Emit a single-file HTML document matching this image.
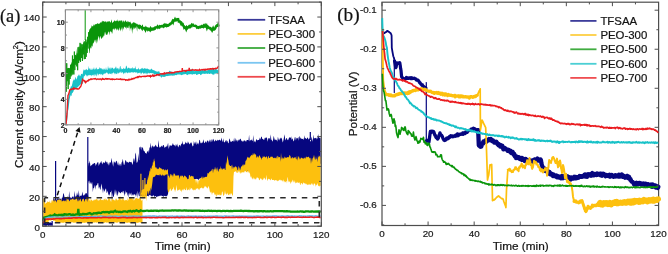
<!DOCTYPE html>
<html><head><meta charset="utf-8"><title>Figure</title>
<style>html,body{margin:0;padding:0;background:#fff;width:668px;height:254px;overflow:hidden}
svg{display:block;font-family:"Liberation Sans",sans-serif;will-change:transform;filter:blur(0.35px)}
text{stroke:#1a1a1a;stroke-width:0.22px}</style></head>
<body><svg width="668" height="254" viewBox="0 0 668 254" font-family="Liberation Sans, sans-serif"><path d="M42.7 222.8 L43.3 222.95 L43.9 222.66 L44.5 222.35 L45.1 222.57 L45.7 222.3 L46.3 222.83 L46.9 223.47 L47.5 222.55 L48.1 222.49 L48.7 223.04 L49.3 222.98 L49.9 222.85 L50.5 222.33 L51.1 222.79 L51.7 223.15 L52.3 222.13 L52.5 222.57 L52.5 225.56 L52.3 226.12 L51.7 225.56 L51.1 225.51 L50.5 225.66 L49.9 225.34 L49.3 225.83 L48.7 225.79 L48.1 225.64 L47.5 225.04 L46.9 225.74 L46.3 225.85 L45.7 225.88 L45.1 225.42 L44.5 225.73 L43.9 225.25 L43.3 225.41 L42.7 225.23ZM51.5 220.99 L52.1 221.18 L52.7 220.88 L52.8 220.98 L52.8 225.82 L52.7 225.55 L52.1 225.81 L51.5 225.82ZM53 200.36 L53.6 197.41 L54.2 199.77 L54.8 198.99 L55.4 198.19 L56 200.63 L56.6 199.51 L57.2 197.5 L57.8 198.73 L58.4 199.19 L59 196.11 L59.6 199.21 L60.2 198.41 L60.8 199.09 L61.4 199.8 L62 197.62 L62.6 197.64 L63.2 193.74 L63.8 193.26 L64.4 196.87 L65 197.42 L65.6 197.74 L66.2 198.78 L66.8 197.48 L67.4 196.44 L68 196.91 L68.6 198.29 L69.2 191.07 L69.8 197.06 L70.4 197.32 L71 198.56 L71.6 197.87 L72.2 196.73 L72.8 196.57 L73.4 196.57 L74 198.22 L74.6 190.71 L75.2 196.16 L75.8 196.69 L76.4 196.1 L77 192.18 L77.6 194.87 L78.2 195.85 L78.8 189.99 L79.4 196.79 L80 196.15 L80.6 195.44 L81.2 196.09 L81.8 195.05 L82.4 191.45 L83 195.31 L83.6 195.86 L84.2 193.95 L84.8 195.55 L85.4 193.47 L86 193.09 L86.6 193.19 L87.2 194.15 L87.8 195.18 L88.4 197.24 L88.5 194.17 L88.5 203.37 L88.4 203.79 L87.8 202.55 L87.2 205.41 L86.6 204.34 L86 202.95 L85.4 203.33 L84.8 205.65 L84.2 203.19 L83.6 202.62 L83 203.7 L82.4 203.62 L81.8 204.01 L81.2 203.44 L80.6 203.67 L80 203.31 L79.4 204.01 L78.8 204.97 L78.2 203.85 L77.6 205.26 L77 202.72 L76.4 203.37 L75.8 203.21 L75.2 203.95 L74.6 203.46 L74 205.1 L73.4 203.02 L72.8 203.84 L72.2 203.73 L71.6 203.93 L71 205.44 L70.4 205.25 L69.8 202.46 L69.2 204.13 L68.6 204.78 L68 203.15 L67.4 204.76 L66.8 202.25 L66.2 204.85 L65.6 201.87 L65 204.36 L64.4 202.87 L63.8 202 L63.2 203.88 L62.6 203.41 L62 204.09 L61.4 204.19 L60.8 204.97 L60.2 203.14 L59.6 204.26 L59 202.95 L58.4 204.04 L57.8 203.92 L57.2 202.97 L56.6 204.52 L56 204.7 L55.4 203.79 L54.8 203.82 L54.2 204.49 L53.6 204.21 L53 203.38ZM88 166.75 L88.6 162.95 L89.2 163.2 L89.8 160.58 L90.4 166.62 L91 165.49 L91.6 165.35 L92.2 164.85 L92.8 163.8 L93.4 163.94 L94 163.05 L94.6 163.08 L95.2 163.5 L95.8 166.07 L96.4 164.3 L97 163.14 L97.6 162.16 L98.2 162.01 L98.8 165.98 L99.4 163.96 L100 163.12 L100.6 162.38 L101.2 160.78 L101.8 162.88 L102.4 164.57 L103 162.29 L103.6 162.59 L104.2 162.6 L104.8 163.2 L105.4 160.13 L106 162.58 L106.6 161.46 L107.2 164.59 L107.8 161.61 L108.4 164.04 L109 165.74 L109.6 162.44 L110.2 161.92 L110.8 163.34 L111.4 157.71 L112 161.21 L112.6 163.83 L113.2 166.63 L113.8 161.25 L114.4 162.63 L115 161.12 L115.6 163.57 L116.2 160.76 L116.8 161.01 L117.4 165.3 L118 161.37 L118.6 164.95 L119.2 165.74 L119.8 163.47 L120.4 163.96 L121 166.41 L121.6 162.48 L122.2 161.71 L122.8 158.79 L123.4 162.73 L124 165.25 L124.6 164.26 L125.2 160.77 L125.8 159.96 L126.4 161.44 L127 162.81 L127.6 161.85 L128.2 162.54 L128.8 162.63 L129.4 161.5 L130 161.9 L130.6 162.28 L131.2 161.7 L131.8 162.7 L132.4 165.1 L133 162.73 L133.6 158.52 L134.2 158.51 L134.8 162.18 L135.4 152.61 L136 154.37 L136.6 162.84 L137.2 162.51 L137.8 160.9 L138.4 153.15 L139 160.38 L139.6 159.35 L140.2 159.15 L140.2 157.07 L140.2 197.76 L140.2 194.85 L139.6 190.44 L139 192.22 L138.4 196.51 L137.8 190.54 L137.2 198.47 L136.6 192.5 L136 197.12 L135.4 194.81 L134.8 194.39 L134.2 194.13 L133.6 194.44 L133 196.03 L132.4 194.1 L131.8 195.91 L131.2 192.52 L130.6 193.8 L130 195.29 L129.4 192.34 L128.8 197.99 L128.2 192.91 L127.6 196.3 L127 191.68 L126.4 192.46 L125.8 194.06 L125.2 190.18 L124.6 196.17 L124 193.81 L123.4 190.66 L122.8 191.28 L122.2 193.05 L121.6 191.7 L121 192.39 L120.4 193.56 L119.8 192.5 L119.2 192.36 L118.6 190.96 L118 194.37 L117.4 196.17 L116.8 190.32 L116.2 195.87 L115.6 192.41 L115 189.15 L114.4 193.7 L113.8 196.5 L113.2 197.18 L112.6 192.73 L112 203.04 L111.4 190.28 L110.8 192.31 L110.2 192.05 L109.6 196.12 L109 193.9 L108.4 195.41 L107.8 190.61 L107.2 192.48 L106.6 192.97 L106 188.27 L105.4 189.24 L104.8 190.41 L104.2 192.09 L103.6 188.22 L103 193.56 L102.4 188.88 L101.8 186.12 L101.2 183.39 L100.6 189.86 L100 189.32 L99.4 186.4 L98.8 188.75 L98.2 183.03 L97.6 183.27 L97 185.55 L96.4 185.31 L95.8 185.83 L95.2 189.87 L94.6 184.64 L94 188.28 L93.4 187.97 L92.8 192.19 L92.2 181.92 L91.6 184.83 L91 181.41 L90.4 183.59 L89.8 183.63 L89.2 180.59 L88.6 181.31 L88 183.54ZM139.3 146.66 L139.9 147.76 L140.5 146.21 L141.1 150.58 L141.7 146.82 L142.3 147.54 L142.9 147.7 L143.5 150.3 L144.1 151.35 L144.7 151.33 L145.3 153.19 L145.9 153.03 L146.5 153.97 L147.1 151.41 L147.7 151.4 L148.3 149.97 L148.9 152.99 L149.5 147.44 L150.1 147.38 L150.7 142.59 L151.3 148.86 L151.9 146.28 L152.5 145.31 L153.1 147.59 L153.7 146.28 L154.3 146.24 L154.9 146.79 L155.5 144.61 L156.1 145.39 L156.7 146.66 L157.3 147.32 L157.9 146.81 L158.5 140.08 L159.1 146.31 L159.7 147.87 L160.3 147.27 L160.9 146.59 L161.5 145.47 L162.1 147.37 L162.7 145.72 L163.3 144.88 L163.9 145.29 L164.5 148.14 L165.1 146.47 L165.7 147.62 L166.3 145.42 L166.9 147.19 L167.5 145.12 L168.1 142.66 L168.7 148.99 L169.3 146.68 L169.9 144.96 L170.5 145.43 L171.1 145.89 L171.7 145.51 L172.3 144.69 L172.9 142.99 L173.5 144.82 L174.1 145.13 L174.7 145.18 L175.3 146.68 L175.9 143.92 L176.5 145.92 L177.1 143.38 L177.7 145.88 L178.3 147.42 L178.9 145.65 L179.5 144.92 L180.1 144.73 L180.7 146.8 L181.3 143.22 L181.9 144.22 L182.5 140.72 L183.1 145.22 L183.7 143.63 L184.3 144.54 L184.9 143.73 L185.5 141.58 L186.1 143.81 L186.7 142.44 L187.3 143.84 L187.9 141.36 L188.5 142.5 L189.1 143.39 L189.7 144.51 L190.3 142.2 L190.9 143.77 L191.5 142.1 L192.1 144.9 L192.7 146.38 L193.3 145.95 L193.9 140.66 L194.5 144.17 L195.1 141.52 L195.7 143.23 L196.3 145.05 L196.9 141.27 L197.5 144.3 L198.1 142.81 L198.7 144.65 L199.3 139.81 L199.9 140.18 L200.5 142.97 L201.1 143.46 L201.7 142.44 L202.3 142.92 L202.9 141.5 L203.5 139.3 L204.1 143.13 L204.7 142.76 L205.3 141.94 L205.9 141.1 L206.5 142.88 L207.1 140.83 L207.7 140.4 L208.3 140.96 L208.9 142.64 L209.5 139.19 L210.1 142.43 L210.7 139.94 L211.3 139.24 L211.9 142.2 L212.5 140.32 L213.1 138.65 L213.7 139.77 L214.3 141.34 L214.9 141.57 L215.5 139.49 L216.1 140.64 L216.7 141.1 L217.3 139.39 L217.9 140.75 L218.5 140.31 L219.1 139.71 L219.7 139.83 L220.3 140.62 L220.9 140.63 L221.5 137.57 L222.1 140.16 L222.7 142.22 L223.3 138.32 L223.9 142.04 L224.5 142.51 L225.1 141.76 L225.7 140.5 L226.3 139.89 L226.9 141.99 L227.5 140.51 L228.1 143.32 L228.7 143.1 L229.3 138.33 L229.9 139.59 L230.5 141.7 L231.1 141.84 L231.7 141.76 L232.3 140.69 L232.9 141.35 L233.5 141.59 L234.1 137.61 L234.7 142.04 L235.3 137.75 L235.9 141.5 L236.5 139.31 L237.1 141.88 L237.7 140.32 L238.3 139.45 L238.9 141.07 L239.5 139.38 L240.1 139.36 L240.7 138.49 L241.3 140.48 L241.9 141.14 L242.5 141.8 L243.1 140.27 L243.7 141.8 L244.3 140.44 L244.9 140.28 L245.5 141.13 L246.1 141.74 L246.7 139.91 L247.3 140.01 L247.9 140.1 L248.5 140.4 L249.1 134.71 L249.7 141.6 L250.3 139.72 L250.9 140.82 L251.5 139.13 L252.1 140.65 L252.7 140.68 L253.3 135.12 L253.9 142.76 L254.5 140.6 L255.1 142.41 L255.7 141.33 L256.3 139.2 L256.9 139.55 L257.5 140.59 L258.1 140.09 L258.7 140.05 L259.3 139.6 L259.9 137.6 L260.5 139.64 L261.1 137.03 L261.7 136.38 L262.3 138.94 L262.9 138.93 L263.5 139.56 L264.1 140.18 L264.7 137.95 L265.3 137.52 L265.9 138.39 L266.5 137.1 L267.1 138.48 L267.7 141.79 L268.3 138.33 L268.9 138.18 L269.5 137.88 L270.1 140.04 L270.7 134.34 L271.3 139.53 L271.9 140.33 L272.5 141.86 L273.1 139.81 L273.7 135.71 L274.3 138.26 L274.9 140.26 L275.5 139.17 L276.1 140.55 L276.7 139.39 L277.3 141.7 L277.9 136.84 L278.5 139.01 L279.1 140.53 L279.7 138.91 L280.3 137.43 L280.9 138.99 L281.5 137.52 L282.1 139.45 L282.7 142.45 L283.3 140.75 L283.9 137.8 L284.5 134.22 L285.1 138.69 L285.7 140.5 L286.3 138.11 L286.9 138.26 L287.5 139.97 L288.1 140.25 L288.7 138.62 L289.3 137.64 L289.9 137.06 L290.5 138.15 L291.1 136.14 L291.7 140 L292.3 138.19 L292.9 139.61 L293.5 141.4 L294.1 140.48 L294.7 137.44 L295.3 136.88 L295.9 140.41 L296.5 137.92 L297.1 137.63 L297.7 138.71 L298.3 136.75 L298.9 140.73 L299.5 135.67 L300.1 137.34 L300.7 138.42 L301.3 138.45 L301.9 138.95 L302.5 139.07 L303.1 138.42 L303.7 140.16 L304.3 135.22 L304.9 138.65 L305.5 137.7 L306.1 138.78 L306.7 138.88 L307.3 137.39 L307.9 137.73 L308.5 139.57 L309.1 138.98 L309.7 137.62 L310.3 141.15 L310.9 141.5 L311.5 136.6 L312.1 138.89 L312.7 141.76 L313.3 134.57 L313.9 138.79 L314.5 138.23 L315.1 137.8 L315.7 138.22 L316.3 137.78 L316.9 139.47 L317.5 137.98 L318.1 134 L318.7 136.94 L319.3 138.34 L319.9 137.34 L320.5 138.27 L320.6 139.85 L320.6 164.83 L320.5 164.07 L319.9 163.37 L319.3 163.91 L318.7 163.45 L318.1 164.54 L317.5 163.93 L316.9 163.73 L316.3 164.74 L315.7 164.13 L315.1 164.82 L314.5 165.15 L313.9 164.15 L313.3 164.14 L312.7 163.74 L312.1 164.3 L311.5 163.42 L310.9 163.19 L310.3 164.22 L309.7 163.73 L309.1 164.33 L308.5 165.14 L307.9 165.17 L307.3 165.13 L306.7 163.96 L306.1 165.34 L305.5 164.8 L304.9 165.88 L304.3 163.22 L303.7 164.14 L303.1 164.83 L302.5 163.96 L301.9 164.63 L301.3 165.06 L300.7 165.21 L300.1 165.08 L299.5 164.06 L298.9 165.95 L298.3 163.56 L297.7 165.47 L297.1 165.07 L296.5 164.57 L295.9 163.66 L295.3 164.46 L294.7 164.97 L294.1 164.62 L293.5 163.91 L292.9 165.1 L292.3 165.14 L291.7 164.53 L291.1 165.16 L290.5 165.15 L289.9 164.41 L289.3 164.23 L288.7 165.09 L288.1 165.12 L287.5 164.31 L286.9 164.41 L286.3 164.84 L285.7 165.88 L285.1 164.88 L284.5 164.95 L283.9 165.53 L283.3 164.75 L282.7 164.36 L282.1 166.13 L281.5 165.35 L280.9 165.25 L280.3 164.36 L279.7 164.52 L279.1 164.29 L278.5 164.99 L277.9 164.62 L277.3 164.61 L276.7 164.93 L276.1 165.33 L275.5 164.67 L274.9 164.96 L274.3 165.55 L273.7 165.58 L273.1 165.83 L272.5 165.55 L271.9 165.32 L271.3 164.82 L270.7 166.13 L270.1 164.98 L269.5 165.76 L268.9 166.14 L268.3 165.89 L267.7 166.9 L267.1 166 L266.5 164.77 L265.9 165.49 L265.3 165.63 L264.7 166.54 L264.1 166.36 L263.5 164.96 L262.9 165.81 L262.3 165.85 L261.7 166.5 L261.1 165.85 L260.5 165.38 L259.9 164.48 L259.3 165.88 L258.7 166.12 L258.1 165.52 L257.5 166.39 L256.9 165.06 L256.3 166.26 L255.7 165.86 L255.1 166.33 L254.5 166.02 L253.9 165.49 L253.3 166.09 L252.7 165.13 L252.1 166.8 L251.5 167.11 L250.9 168.21 L250.3 169.91 L249.7 170.54 L249.1 170.4 L248.5 170.45 L247.9 171 L247.3 171.36 L246.7 170.79 L246.1 171.12 L245.5 170.08 L244.9 171.3 L244.3 169.78 L243.7 169.91 L243.1 169.76 L242.5 170.58 L241.9 171.26 L241.3 171.03 L240.7 170.71 L240.1 171.2 L239.5 170.79 L238.9 170.75 L238.3 170.23 L237.7 170.2 L237.1 170.66 L236.5 171.13 L235.9 170.95 L235.3 170.86 L234.7 170.44 L234.1 170.47 L233.5 171.19 L232.9 173.15 L232.3 177.91 L231.7 177.96 L231.1 178.19 L230.5 177.73 L229.9 178.45 L229.3 178.18 L228.7 177.64 L228.1 177.88 L227.5 178.54 L226.9 177.81 L226.3 178.39 L225.7 178.32 L225.1 177.6 L224.5 178.01 L223.9 179.27 L223.3 177.71 L222.7 178.05 L222.1 178.91 L221.5 178.43 L220.9 177.86 L220.3 178.14 L219.7 178.05 L219.1 177.18 L218.5 178.6 L217.9 178.98 L217.3 178.93 L216.7 178.6 L216.1 178.84 L215.5 179.25 L214.9 178.08 L214.3 178.38 L213.7 179.04 L213.1 178.41 L212.5 178.78 L211.9 178.57 L211.3 177.89 L210.7 179.01 L210.1 179.38 L209.5 179.31 L208.9 179.34 L208.3 179.34 L207.7 179.09 L207.1 178.93 L206.5 178.64 L205.9 178.49 L205.3 178.67 L204.7 179.5 L204.1 179.21 L203.5 178.14 L202.9 179.04 L202.3 179.6 L201.7 178.36 L201.1 178.25 L200.5 178.57 L199.9 178.27 L199.3 179.02 L198.7 179.93 L198.1 179.38 L197.5 178.97 L196.9 179.32 L196.3 178.72 L195.7 179.06 L195.1 179.13 L194.5 179.69 L193.9 179.65 L193.3 179.22 L192.7 178.8 L192.1 178.4 L191.5 179.1 L190.9 179.04 L190.3 179.43 L189.7 178.66 L189.1 179.77 L188.5 179.29 L187.9 179.33 L187.3 180.11 L186.7 180.01 L186.1 180.04 L185.5 179.94 L184.9 179.25 L184.3 179.96 L183.7 179.85 L183.1 179.67 L182.5 179.3 L181.9 179.16 L181.3 179.54 L180.7 178.69 L180.1 179.61 L179.5 179.66 L178.9 179.66 L178.3 179.3 L177.7 179.54 L177.1 179.85 L176.5 179.59 L175.9 178.69 L175.3 180.61 L174.7 179.24 L174.1 178.93 L173.5 179.73 L172.9 179.58 L172.3 180.15 L171.7 179.93 L171.1 179.75 L170.5 179.44 L169.9 179.99 L169.3 180.26 L168.7 184.34 L168.1 193.58 L167.5 195.59 L166.9 195.75 L166.3 196.52 L165.7 196.22 L165.1 195.92 L164.5 195.94 L163.9 195.57 L163.3 197.17 L162.7 196.05 L162.1 195.97 L161.5 195.53 L160.9 196.03 L160.3 195.47 L159.7 195.69 L159.1 196.31 L158.5 196.18 L157.9 196.07 L157.3 196.65 L156.7 197.23 L156.1 196.53 L155.5 196 L154.9 196.16 L154.3 196.89 L153.7 195.62 L153.1 195.33 L152.5 196.32 L151.9 196.53 L151.3 195.98 L150.7 195 L150.1 195.63 L149.5 194.86 L148.9 195.61 L148.3 196.57 L147.7 195.64 L147.1 196.08 L146.5 195.66 L145.9 195.76 L145.3 195.63 L144.7 196.02 L144.1 196.67 L143.5 195.46 L142.9 196.38 L142.3 195.85 L141.7 195.94 L141.1 196.03 L140.5 196.18 L139.9 196.25 L139.3 196.18Z" fill="#06067f"/><line x1="55.6" y1="161" x2="55.6" y2="201" stroke="#06067f" stroke-width="1.2"/><line x1="87.8" y1="137" x2="87.8" y2="200" stroke="#06067f" stroke-width="1.2"/><line x1="310.3" y1="132" x2="310.3" y2="140" stroke="#06067f" stroke-width="1.2"/><path d="M43.3 199.26 L43.9 198.13 L44.5 199.97 L45.1 203.07 L45.7 203.88 L46.3 202.33 L46.9 203.37 L47.5 201.33 L48.1 201.79 L48.7 202 L49.3 202.47 L49.9 200.32 L50.5 202.91 L51.1 203.18 L51.7 200.31 L52.3 199.93 L52.9 201.66 L53.5 200.41 L54.1 198.37 L54.7 201.71 L55.3 200.85 L55.9 200 L56.5 202.76 L57.1 200.52 L57.7 199.46 L58.3 200.32 L58.9 198.99 L59.5 199.22 L60.1 200.42 L60.7 199.38 L61.3 198.72 L61.9 201.81 L62.5 200.91 L63.1 200.84 L63.7 200.54 L64.3 200.48 L64.9 201.54 L65.5 199.91 L66.1 201.96 L66.7 198.87 L67.3 199.63 L67.9 198.38 L68.5 199.52 L69.1 200.46 L69.7 201.48 L70.3 199.14 L70.9 199.87 L71.5 199.46 L72.1 199.04 L72.7 198.53 L73.3 199.9 L73.9 197.92 L74.5 199.94 L75.1 199.83 L75.7 199.08 L76.3 198.68 L76.9 198.27 L77.5 201.84 L78.1 198.3 L78.7 201.48 L79.3 200.42 L79.9 199.35 L80.5 198.47 L81.1 200.88 L81.7 201.63 L82.3 198.69 L82.9 199.39 L83.5 198.29 L84.1 200.07 L84.7 201.89 L85.3 199.06 L85.9 198.95 L86.5 198.29 L87.1 201.97 L87.7 198.85 L88.3 197.22 L88.9 199.5 L89.5 199.48 L90.1 201.73 L90.7 199.24 L91.3 199.59 L91.9 200.25 L92.5 201.21 L93.1 199.52 L93.7 200.72 L94.3 200.14 L94.9 199.24 L95.5 199.64 L96.1 199.58 L96.7 198.53 L97.3 200.87 L97.9 198 L98.5 200.81 L99.1 200.56 L99.7 199.4 L100.3 198.5 L100.9 199.24 L101.5 200 L102.1 200.29 L102.7 199.78 L103.3 200.55 L103.9 198.84 L104.5 199.71 L105.1 197.71 L105.7 200.27 L106.3 199.59 L106.9 198.96 L107.5 200.69 L108.1 199.63 L108.7 196.3 L109.3 199.43 L109.9 197.78 L110.5 200.55 L111.1 202.11 L111.7 198.79 L112.3 199.44 L112.9 199.07 L113.5 199.73 L114.1 200.04 L114.7 200.74 L115.3 198.23 L115.9 201.04 L116.5 198.28 L117.1 199.6 L117.7 200.57 L118.3 200.07 L118.9 198.25 L119.5 197.26 L120.1 195.93 L120.7 199.2 L121.3 200.51 L121.9 197.82 L122.5 199.75 L123.1 197.06 L123.7 199.84 L124.3 199.73 L124.9 200.88 L125.5 199.74 L126.1 200.14 L126.7 199.81 L127.3 201.15 L127.9 197.08 L128.5 200.58 L129.1 198.87 L129.7 197.12 L130.3 198.08 L130.9 197.08 L131.5 198.71 L132.1 197.27 L132.7 199.66 L133.3 197.49 L133.9 200.68 L134.5 199.39 L135.1 198.81 L135.7 198.3 L136.3 198.21 L136.9 197.82 L137.5 198.46 L138.1 199.06 L138.7 198.85 L139.3 197.48 L139.9 198.74 L140.5 198.04 L141.1 199.19 L141.7 201.06 L142.3 199.69 L142.5 198.66 L142.5 222.17 L142.3 222.25 L141.7 222.53 L141.1 222.72 L140.5 222.72 L139.9 222.2 L139.3 222.18 L138.7 222.55 L138.1 222.76 L137.5 222.72 L136.9 223.31 L136.3 222.48 L135.7 222.76 L135.1 222.93 L134.5 223.04 L133.9 222.51 L133.3 222.52 L132.7 223.1 L132.1 222.37 L131.5 222.4 L130.9 222.67 L130.3 222.85 L129.7 222.74 L129.1 222.55 L128.5 222.62 L127.9 222.52 L127.3 222.89 L126.7 222.6 L126.1 222.96 L125.5 222.32 L124.9 222.42 L124.3 222.44 L123.7 222.56 L123.1 222.55 L122.5 222.48 L121.9 222.68 L121.3 222.94 L120.7 222.67 L120.1 222.03 L119.5 222.63 L118.9 221.5 L118.3 222.43 L117.7 222.61 L117.1 222.65 L116.5 222.66 L115.9 222.37 L115.3 222.49 L114.7 222.36 L114.1 222.53 L113.5 222.94 L112.9 222.38 L112.3 222.85 L111.7 222.43 L111.1 222.9 L110.5 223 L109.9 222.25 L109.3 222.65 L108.7 222.83 L108.1 222.45 L107.5 222.46 L106.9 222.65 L106.3 222.48 L105.7 222.48 L105.1 222.09 L104.5 222.99 L103.9 222.79 L103.3 222.82 L102.7 222.48 L102.1 222.4 L101.5 222.55 L100.9 222.64 L100.3 222.51 L99.7 222.6 L99.1 222.91 L98.5 222.52 L97.9 222.72 L97.3 222.28 L96.7 222.5 L96.1 222.63 L95.5 222.3 L94.9 222.28 L94.3 222.68 L93.7 222.58 L93.1 222.44 L92.5 222.96 L91.9 222.8 L91.3 223.19 L90.7 223.04 L90.1 222.32 L89.5 222.12 L88.9 222.3 L88.3 222.54 L87.7 222.63 L87.1 222.37 L86.5 222.49 L85.9 222.95 L85.3 222.28 L84.7 223.07 L84.1 222.82 L83.5 222.79 L82.9 222.62 L82.3 223.02 L81.7 223.04 L81.1 222.33 L80.5 222.92 L79.9 222.47 L79.3 222.38 L78.7 222.7 L78.1 223.23 L77.5 222.96 L76.9 222.36 L76.3 222.28 L75.7 222.24 L75.1 223.17 L74.5 222.38 L73.9 222.39 L73.3 222.63 L72.7 222.55 L72.1 222.03 L71.5 222.56 L70.9 222.36 L70.3 222.89 L69.7 222.42 L69.1 222.36 L68.5 222.56 L67.9 222.18 L67.3 222.9 L66.7 222.89 L66.1 223.28 L65.5 223.04 L64.9 221.99 L64.3 222.81 L63.7 222.73 L63.1 222.65 L62.5 222.86 L61.9 222.64 L61.3 222.43 L60.7 222.7 L60.1 222.71 L59.5 222.03 L58.9 223.18 L58.3 222.39 L57.7 222.53 L57.1 222.52 L56.5 222.27 L55.9 222.47 L55.3 221.42 L54.7 220.2 L54.1 221.27 L53.5 220.64 L52.9 220.08 L52.3 220.08 L51.7 220.16 L51.1 220.19 L50.5 220.76 L49.9 220.26 L49.3 220.4 L48.7 220.92 L48.1 222.81 L47.5 222.63 L46.9 222.41 L46.3 222.62 L45.7 222.37 L45.1 222.82 L44.5 222.09 L43.9 222.18 L43.3 222.11ZM140.5 196.72 L140.9 192.94 L141.3 192.63 L141.7 189.97 L142.1 190.12 L142.5 189.26 L142.9 189.83 L143.3 188.76 L143.7 189.18 L144.1 189.29 L144.5 186.5 L144.9 184.27 L145.3 183.37 L145.7 185.32 L146.1 183.95 L146.5 184.62 L146.9 183.63 L147.3 179.79 L147.7 179.55 L148.1 174.62 L148.5 178.44 L148.9 175.29 L149.3 172.38 L149.7 170.16 L150.1 171.67 L150.5 167.49 L150.9 168.24 L151.3 169.35 L151.7 167.16 L152.1 165.13 L152.5 166.11 L152.9 161.92 L153.3 162.63 L153.7 160.17 L154.1 158.37 L154.5 160.95 L154.9 161.28 L155.3 168.14 L155.7 166.92 L155.7 175.55 L155.3 175.84 L154.9 176.95 L154.5 176.75 L154.1 176.23 L153.7 177.15 L153.3 176.99 L152.9 177.6 L152.5 181.52 L152.1 184.72 L151.7 187.2 L151.3 190.83 L150.9 187.39 L150.5 189.42 L150.1 195.56 L149.7 191.1 L149.3 190.13 L148.9 192.66 L148.5 195.42 L148.1 191.21 L147.7 190.93 L147.3 193.15 L146.9 195.2 L146.5 198.22 L146.1 201.41 L145.7 193.01 L145.3 198.99 L144.9 198.45 L144.5 197.83 L144.1 195.51 L143.7 200.46 L143.3 194.31 L142.9 199.19 L142.5 197.9 L142.1 194.15 L141.7 194.5 L141.3 199.01 L140.9 194.77 L140.5 202.47ZM155.5 167.2 L156.1 166.96 L156.7 168.4 L157.3 168.6 L157.9 169.23 L158.5 168.98 L159.1 167.72 L159.7 167.13 L160.3 168.06 L160.9 168.52 L161.5 168.41 L162.1 169.46 L162.7 169.39 L163.3 169.06 L163.9 169.64 L164.5 170.7 L165.1 169.11 L165.7 170.16 L166.3 170.23 L166.9 170.25 L167.5 168.81 L168 170.51 L168 175.68 L167.5 174.57 L166.9 174.05 L166.3 174.83 L165.7 175.13 L165.1 174.25 L164.5 176.06 L163.9 175.29 L163.3 175.65 L162.7 174.36 L162.1 175.66 L161.5 175.42 L160.9 175.48 L160.3 174.37 L159.7 174.57 L159.1 175.77 L158.5 174.89 L157.9 175.03 L157.3 175.36 L156.7 174.86 L156.1 174.85 L155.5 175.07ZM167.5 171.53 L168 172.78 L168.5 175.87 L169 176.03 L169.5 178.31 L170 174.34 L170.5 173.83 L171 176.25 L171.5 174.6 L172 174.56 L172.5 175.53 L173 176.95 L173.5 174.28 L174 172.88 L174.5 174.07 L175 174.55 L175.5 175.47 L176 176.27 L176.5 175.55 L177 175.04 L177.5 175.94 L178 174.86 L178.5 175.82 L179 175.27 L179.5 179.22 L180 176.82 L180.5 175.29 L181 176.81 L181.5 175.95 L182 174.88 L182.5 175.92 L183 176.04 L183.5 177.79 L184 176.61 L184.5 175.35 L185 175.96 L185.5 176.09 L186 177.17 L186.5 176.99 L187 178.31 L187.5 179.73 L188 178.18 L188.5 180.07 L189 175.11 L189.5 175.02 L190 175.71 L190.5 177.37 L191 175.52 L191.5 176.08 L192 176.26 L192.5 176.4 L193 175.75 L193.5 176.71 L194 178.97 L194.5 178.97 L195 179.02 L195.5 179.55 L196 183.29 L196.5 180.7 L197 179.42 L197.5 181.84 L198 185.02 L198.5 179.74 L199 180.57 L199.5 180.2 L200 178.81 L200.5 179.28 L201 177.51 L201.5 177.78 L202 176 L202.5 179.32 L203 176.04 L203.5 178.46 L204 176.79 L204.5 177.65 L205 177.1 L205.5 176.92 L206 176.61 L206.5 177.12 L207 176.7 L207.5 173.18 L208 172.8 L208.5 173.71 L209 172.75 L209.5 171.74 L210 171.7 L210.5 171.19 L211 170.9 L211.5 170.57 L212 169.11 L212.5 168.65 L213 173.25 L213.5 169.75 L214 168.73 L214.5 169.89 L215 166.61 L215.5 168.6 L216 169.97 L216.5 167.62 L217 171.85 L217.5 166.65 L218 170.66 L218.5 172.05 L219 168.52 L219.5 168.95 L220 169.51 L220.5 165.82 L221 169.93 L221.5 167.99 L222 168.82 L222.5 170.07 L223 167.95 L223.5 168.68 L224 169.2 L224.5 167.67 L225 170.16 L225.5 169.8 L226 161.48 L226.5 165.04 L227 159 L227.5 155.34 L228 158.98 L228.5 161.09 L229 165.66 L229.5 164.13 L230 165.95 L230.5 165.93 L231 166.09 L231.5 164.83 L232 169.64 L232.5 164.35 L233 169.16 L233.5 166.44 L234 167.78 L234.5 167.21 L235 166.43 L235.5 166.29 L236 167.09 L236.5 166.78 L237 168.39 L237.5 172.15 L238 166.31 L238.5 166.57 L239 170.51 L239.5 167.8 L240 167.37 L240.5 170.38 L241 166.63 L241.5 166.45 L242 165.98 L242.5 164.19 L243 166.72 L243.5 164.36 L244 164.71 L244.5 164.25 L245 165.43 L245.5 160.76 L246 160.78 L246.5 159.86 L247 158.33 L247.5 156.56 L248 157.71 L248.5 157.63 L249 156.86 L249.5 158.54 L250 156.64 L250.5 156.32 L251 155.49 L251.5 154.77 L252 155.54 L252.5 155.29 L253 152.51 L253.5 154.64 L254 154.54 L254.5 152.73 L255 155.36 L255.5 154.08 L256 154.59 L256.5 158.02 L257 156.88 L257.5 155.65 L258 157.85 L258.5 157.14 L259 155.66 L259.5 155.21 L260 155.9 L260.5 157.77 L261 157.45 L261.5 159.93 L262 157.78 L262.5 158.1 L263 155.4 L263.5 157.2 L264 156.67 L264.5 156.27 L265 156.95 L265.5 157.38 L266 157.23 L266.5 156.05 L267 157.02 L267.5 159.52 L268 156.45 L268.5 155.81 L269 157.78 L269.5 158.1 L270 157.96 L270.5 156.38 L271 156.88 L271.5 156.71 L272 156.37 L272.5 156.89 L273 157.39 L273.5 158.21 L274 158.12 L274.5 157.48 L275 158.43 L275.5 157.58 L276 158.4 L276.5 156.1 L277 159.27 L277.5 155.7 L278 156.11 L278.5 157.2 L279 157.4 L279.5 157.01 L280 157.05 L280.5 161.81 L281 152.66 L281.5 157.59 L282 159.8 L282.5 157.52 L283 157.48 L283.5 158.23 L284 159.33 L284.5 156.31 L285 157.7 L285.5 157.31 L286 158.06 L286.5 157.66 L287 157.18 L287.5 157.08 L288 157.55 L288.5 157.29 L289 156.7 L289.5 154.72 L290 155.57 L290.5 156.33 L291 159.07 L291.5 157.99 L292 157.46 L292.5 156.85 L293 158.79 L293.5 158.01 L294 157.48 L294.5 157.75 L295 157.07 L295.5 157.35 L296 159.03 L296.5 159.53 L297 155.26 L297.5 160.64 L298 157.93 L298.5 156.45 L299 156.13 L299.5 159.66 L300 157.13 L300.5 159.58 L301 158.04 L301.5 157.58 L302 157.98 L302.5 158.14 L303 158.68 L303.5 158.64 L304 157.59 L304.5 157.68 L305 158.85 L305.5 158.32 L306 156.5 L306.5 156.86 L307 157.83 L307.5 156.88 L308 157.12 L308.5 156.54 L309 157.24 L309.5 157.92 L310 158.5 L310.5 157.51 L311 164.53 L311.5 157.42 L312 162.35 L312.5 158.5 L313 158 L313.5 157 L314 154.68 L314.5 157.34 L315 159.63 L315.5 159.42 L316 156.12 L316.5 159.41 L317 158.34 L317.5 162.33 L318 154.96 L318.5 157.64 L319 156.3 L319.5 155.56 L320 157.59 L320.5 156.36 L320.6 158.79 L320.6 185.62 L320.5 185.99 L320 185.55 L319.5 186.78 L319 185.58 L318.5 186.36 L318 185.28 L317.5 182.76 L317 184.94 L316.5 185.52 L316 184.04 L315.5 186.9 L315 183.51 L314.5 184.11 L314 183.07 L313.5 186.17 L313 183.4 L312.5 185.14 L312 182.73 L311.5 183.64 L311 184.67 L310.5 184.72 L310 184.23 L309.5 184.99 L309 183.39 L308.5 185.26 L308 184.15 L307.5 185.19 L307 184.15 L306.5 184.48 L306 183.16 L305.5 184.48 L305 182.73 L304.5 183.78 L304 183.11 L303.5 182.29 L303 183.87 L302.5 184.63 L302 183.06 L301.5 183.62 L301 182.76 L300.5 185.22 L300 184.53 L299.5 182.12 L299 182.98 L298.5 182.43 L298 182.99 L297.5 182.58 L297 181.56 L296.5 182.91 L296 182.95 L295.5 183.5 L295 181.04 L294.5 182.81 L294 179.5 L293.5 182.66 L293 180.99 L292.5 179.49 L292 182.74 L291.5 181.97 L291 181.07 L290.5 184.31 L290 182.24 L289.5 181.69 L289 180.67 L288.5 182.52 L288 178.68 L287.5 176.85 L287 183.7 L286.5 180.84 L286 181.46 L285.5 182.4 L285 181.17 L284.5 181.25 L284 182.85 L283.5 179.34 L283 181.57 L282.5 181.23 L282 179.87 L281.5 180.16 L281 181.01 L280.5 179.71 L280 179.87 L279.5 179.65 L279 180.56 L278.5 180.75 L278 180.52 L277.5 181.49 L277 180.27 L276.5 180.51 L276 180.36 L275.5 180.19 L275 179.81 L274.5 181.24 L274 179.85 L273.5 179.96 L273 180.02 L272.5 180.1 L272 180 L271.5 178.2 L271 179.55 L270.5 180.42 L270 179.42 L269.5 179.11 L269 179.53 L268.5 178.8 L268 178.72 L267.5 181.2 L267 179.2 L266.5 174.83 L266 179.6 L265.5 179.84 L265 178.31 L264.5 178.61 L264 177.23 L263.5 178.89 L263 179.74 L262.5 179.53 L262 180.62 L261.5 178.44 L261 178.96 L260.5 178 L260 179.27 L259.5 180.29 L259 180.11 L258.5 177.84 L258 178.22 L257.5 177.49 L257 177.33 L256.5 178.05 L256 179.69 L255.5 178.54 L255 179.89 L254.5 177.9 L254 179.16 L253.5 177.08 L253 179.95 L252.5 178.24 L252 178.67 L251.5 177.28 L251 175.97 L250.5 177.87 L250 173.42 L249.5 173.26 L249 171.31 L248.5 171.63 L248 173.51 L247.5 170.34 L247 172.03 L246.5 172.07 L246 172.4 L245.5 170.71 L245 170.56 L244.5 171.43 L244 173.02 L243.5 171.79 L243 172.74 L242.5 172.37 L242 171.97 L241.5 173.52 L241 171.87 L240.5 173.38 L240 173.52 L239.5 171.75 L239 170.95 L238.5 171.48 L238 172.9 L237.5 172.31 L237 173.12 L236.5 172.61 L236 170.74 L235.5 171.4 L235 171.65 L234.5 171.91 L234 171.39 L233.5 176.48 L233 195.77 L232.5 195.57 L232 194.57 L231.5 193.49 L231 193.33 L230.5 193.85 L230 195.8 L229.5 193.57 L229 194.68 L228.5 195.15 L228 194.51 L227.5 192.43 L227 194.73 L226.5 194.57 L226 193.4 L225.5 194.09 L225 190.36 L224.5 194.32 L224 194.91 L223.5 196.15 L223 194.71 L222.5 191.51 L222 191.74 L221.5 195.59 L221 194.68 L220.5 194.94 L220 195.9 L219.5 194.28 L219 194.77 L218.5 194.68 L218 194.89 L217.5 195.31 L217 193.36 L216.5 196.74 L216 196.07 L215.5 194.51 L215 194.26 L214.5 195.12 L214 192.21 L213.5 192.7 L213 192.86 L212.5 192.76 L212 195.2 L211.5 192.8 L211 191.33 L210.5 192.69 L210 192.15 L209.5 189.46 L209 187.23 L208.5 185.78 L208 187.74 L207.5 188.67 L207 186.97 L206.5 187.95 L206 186.15 L205.5 186.91 L205 185.59 L204.5 186.93 L204 187.84 L203.5 188.06 L203 189.26 L202.5 187.77 L202 188.32 L201.5 187.34 L201 187.96 L200.5 188.15 L200 188.21 L199.5 190.52 L199 188.11 L198.5 189.66 L198 189.16 L197.5 187.75 L197 188.91 L196.5 188.64 L196 188.26 L195.5 189.91 L195 190.29 L194.5 189.88 L194 189.12 L193.5 190.7 L193 189.6 L192.5 189.97 L192 188.25 L191.5 187.88 L191 189.02 L190.5 189.84 L190 187.11 L189.5 190.4 L189 190.08 L188.5 189.32 L188 189.65 L187.5 189.99 L187 190.71 L186.5 186.88 L186 189.71 L185.5 190.2 L185 190 L184.5 188.95 L184 188.52 L183.5 189.66 L183 190.8 L182.5 189.78 L182 189.16 L181.5 192.4 L181 190.3 L180.5 191.23 L180 188.83 L179.5 189.63 L179 189.99 L178.5 189.72 L178 190.71 L177.5 190.67 L177 189.23 L176.5 184.68 L176 189.35 L175.5 190.19 L175 192.13 L174.5 189.27 L174 189.64 L173.5 186.45 L173 188.65 L172.5 189.14 L172 190.09 L171.5 190.7 L171 191.34 L170.5 188.61 L170 188.64 L169.5 190.38 L169 191.9 L168.5 192.21 L168 192.2 L167.5 189.09Z" fill="#fdc00e"/><line x1="140.9" y1="173.7" x2="140.9" y2="198" stroke="#fdc00e" stroke-width="1.1"/><line x1="142.9" y1="180" x2="142.9" y2="198" stroke="#fdc00e" stroke-width="1.1"/><line x1="144.9" y1="178" x2="144.9" y2="198" stroke="#fdc00e" stroke-width="1.1"/><path d="M43.2 221.06 L44 217.59 L44.67 217.55 L45.33 217.12 L46 217.13 L46.61 216.97 L47.22 216.97 L47.83 216.72 L48.43 216.32 L49.04 216.04 L49.65 215.7 L50.26 215.45 L50.87 215.75 L51.48 215.77 L52.09 216.1 L52.7 216.13 L53.3 215.29 L53.91 215.18 L54.52 214.46 L55.13 215.25 L55.74 214.9 L56.35 215.33 L56.96 215.59 L57.57 215.33 L58.17 215.31 L58.78 214.9 L59.39 214.8 L60 214.87 L60.61 214.87 L61.23 215.18 L61.84 214.81 L62.46 215.57 L63.07 215.56 L63.68 215.27 L64.3 214.21 L64.91 214.19 L65.52 214.51 L66.14 214.69 L66.75 214.49 L67.37 214.68 L67.98 214.55 L68.59 214.45 L69.21 214.08 L69.82 214.08 L70.43 214.59 L71.05 214.87 L71.66 214.85 L72.28 214.62 L72.89 214.52 L73.5 215.07 L74.12 214.88 L74.73 214.91 L75.34 214.56 L75.96 214.45 L76.57 214.35 L77.19 214.19 L77.8 214.27 L78.3 208.86 L78.8 214.47 L79.4 214.81 L80.01 214.59 L80.61 214.35 L81.22 214.6 L81.82 214.34 L82.43 214.31 L83.03 213.92 L83.64 214.18 L84.24 214.24 L84.84 214.03 L85.45 214.13 L86.05 214.24 L86.66 214.1 L87.26 213.93 L87.87 213.58 L88.47 213.5 L89.08 213.41 L89.68 213.12 L90.28 213.35 L90.89 213.7 L91.49 214.32 L92.1 214.4 L92.7 213.74 L93.31 213.66 L93.91 213.16 L94.52 213.33 L95.12 213.37 L95.72 213.24 L96.33 213.41 L96.93 213.01 L97.54 213.18 L98.14 212.75 L98.75 212.74 L99.35 212.63 L99.96 213.03 L100.56 213.17 L101.16 212.92 L101.77 212.53 L102.37 212.15 L102.98 212.15 L103.58 211.97 L104.19 212.03 L104.79 212.2 L105.4 212.05 L106 211.87 L106.61 212 L107.21 212.07 L107.82 211.96 L108.43 212.17 L109.04 212.7 L109.64 212.52 L110.25 211.85 L110.86 211.62 L111.46 211.68 L112.07 211.9 L112.68 211.69 L113.29 212.05 L113.89 211.53 L114.5 211.12 L115.11 210.71 L115.71 211.45 L116.32 211.87 L116.93 211.73 L117.54 211.6 L118.14 211.76 L118.75 212.04 L119.36 211.84 L119.96 211.75 L120.57 212.04 L121.18 212.11 L121.79 212.11 L122.39 211.81 L123 211.67 L123.61 211.34 L124.21 211.38 L124.82 211.37 L125.43 211.48 L126.04 211.6 L126.64 211.74 L127.25 211.94 L127.86 211.39 L128.46 211.38 L129.07 211.05 L129.68 211.18 L130.29 210.86 L130.89 211.21 L131.5 211.52 L132.11 211.52 L132.71 211.01 L133.32 210.82 L133.93 210.84 L134.54 211.39 L135.14 211.06 L135.75 210.75 L136.36 210.34 L136.96 210.61 L137.57 210.98 L138.18 211.16 L138.79 211.55 L139.39 211.43 L140 211.14 L140.6 210.4 L141.2 210.54 L141.8 210.78 L142.4 210.98 L143 211.07 L143.6 210.95 L144.2 211.07 L144.8 210.96 L145.4 210.88 L146 210.75 L146.6 210.63 L147.2 210.59 L147.8 210.63 L148.4 210.76 L149 210.97 L149.6 210.94 L150.2 210.87 L150.8 210.69 L151.4 210.74 L152 210.77 L152.6 210.79 L153.2 210.77 L153.8 210.77 L154.4 210.69 L155 210.69 L155.6 210.65 L156.2 210.73 L156.8 210.66 L157.4 210.74 L158 210.85 L158.6 210.97 L159.2 210.8 L159.8 210.66 L160.4 210.6 L161 210.59 L161.6 210.58 L162.2 210.42 L162.8 210.58 L163.4 210.68 L164 210.8 L164.6 210.7 L165.2 210.61 L165.8 210.55 L166.4 210.57 L167 210.54 L167.6 210.63 L168.2 210.56 L168.8 210.54 L169.4 210.54 L170 210.55 L170.6 210.63 L171.2 210.52 L171.8 210.39 L172.4 210.38 L173 210.32 L173.6 210.52 L174.21 210.41 L174.81 210.38 L175.42 210.34 L176.02 210.46 L176.63 210.58 L177.23 210.5 L177.84 210.53 L178.44 210.45 L179.05 210.5 L179.65 210.41 L180.26 210.48 L180.86 210.56 L181.47 210.57 L182.07 210.63 L182.67 210.63 L183.28 210.57 L183.88 210.48 L184.49 210.42 L185.09 210.49 L185.7 210.58 L186.3 210.5 L186.91 210.58 L187.51 210.61 L188.12 210.72 L188.72 210.6 L189.33 210.57 L189.93 210.55 L190.53 210.67 L191.14 210.67 L191.74 210.75 L192.35 210.7 L192.95 210.79 L193.56 210.62 L194.16 210.6 L194.77 210.55 L195.37 210.6 L195.98 210.7 L196.58 210.61 L197.19 210.71 L197.79 210.62 L198.4 210.67 L199 210.68 L199.6 210.73 L200.21 210.74 L200.81 210.86 L201.42 210.88 L202.02 210.85 L202.63 210.78 L203.23 210.84 L203.84 210.97 L204.44 211.02 L205.05 210.93 L205.65 210.92 L206.26 210.89 L206.86 210.95 L207.47 210.91 L208.07 210.68 L208.67 210.65 L209.28 210.75 L209.88 210.82 L210.49 210.83 L211.09 210.75 L211.7 210.89 L212.3 211.02 L212.91 210.91 L213.51 210.88 L214.12 210.85 L214.72 210.88 L215.33 210.88 L215.93 210.94 L216.53 211.1 L217.14 211.14 L217.74 210.89 L218.35 210.81 L218.95 210.81 L219.56 210.94 L220.16 210.95 L220.77 211.12 L221.37 211.13 L221.98 211.08 L222.58 210.92 L223.19 210.92 L223.79 210.97 L224.4 210.95 L225 211.02 L225.6 211.05 L226.2 210.97 L226.8 210.91 L227.4 210.92 L228 210.95 L228.6 211.02 L229.2 211.03 L229.8 210.99 L230.4 210.93 L231 211 L231.6 211.14 L232.2 211.11 L232.8 211.03 L233.4 210.9 L234 210.81 L234.6 210.78 L235.2 210.83 L235.8 210.93 L236.4 210.89 L237 210.89 L237.6 210.82 L238.2 210.84 L238.8 210.86 L239.4 210.88 L240 210.89 L240.61 210.76 L241.21 210.73 L241.82 210.78 L242.42 211 L243.03 211.08 L243.64 211 L244.24 210.84 L244.85 210.86 L245.45 210.93 L246.06 210.93 L246.67 210.96 L247.27 210.96 L247.88 211.08 L248.48 211 L249.09 211.02 L249.7 210.92 L250.3 211.09 L250.91 211.08 L251.52 211.11 L252.12 211.12 L252.73 211.2 L253.33 211.24 L253.94 211.3 L254.55 211.2 L255.15 211.27 L255.76 211.22 L256.36 211.16 L256.97 211.22 L257.58 211.16 L258.18 211.31 L258.79 211.2 L259.39 211.24 L260 211.19 L260.61 211.2 L261.21 211.15 L261.82 211.14 L262.42 211.28 L263.03 211.23 L263.64 211.25 L264.24 211.14 L264.85 211.21 L265.45 211.3 L266.06 211.36 L266.67 211.34 L267.27 211.27 L267.88 211.22 L268.48 211.28 L269.09 211.34 L269.7 211.31 L270.3 211.14 L270.91 211.22 L271.52 211.3 L272.12 211.43 L272.73 211.33 L273.33 211.24 L273.94 211.16 L274.55 211.12 L275.15 211.13 L275.76 211.15 L276.36 211.09 L276.97 211.08 L277.58 211.14 L278.18 211.2 L278.79 211.21 L279.39 211.06 L280 211.07 L280.61 211.07 L281.21 211.13 L281.82 211.06 L282.42 211.1 L283.03 211.14 L283.64 211.28 L284.24 211.24 L284.85 211.34 L285.45 211.3 L286.06 211.25 L286.67 211.22 L287.27 211.23 L287.88 211.37 L288.48 211.36 L289.09 211.37 L289.7 211.39 L290.3 211.5 L290.91 211.58 L291.52 211.6 L292.12 211.57 L292.73 211.59 L293.33 211.59 L293.94 211.6 L294.55 211.57 L295.15 211.54 L295.76 211.67 L296.36 211.68 L296.97 211.67 L297.58 211.52 L298.18 211.53 L298.79 211.57 L299.39 211.53 L300 211.43 L300.61 211.43 L301.21 211.4 L301.82 211.53 L302.42 211.52 L303.03 211.67 L303.64 211.75 L304.24 211.76 L304.85 211.66 L305.45 211.49 L306.06 211.43 L306.66 211.46 L307.27 211.4 L307.88 211.45 L308.48 211.44 L309.09 211.6 L309.69 211.57 L310.3 211.57 L310.91 211.49 L311.51 211.48 L312.12 211.37 L312.72 211.42 L313.33 211.53 L313.94 211.64 L314.54 211.65 L315.15 211.5 L315.75 211.57 L316.36 211.5 L316.96 211.6 L317.57 211.52 L318.18 211.51 L318.78 211.52 L319.39 211.51 L319.99 211.57 L320.6 211.51" fill="none" stroke="#0a950a" stroke-width="2.3"/><path d="M43.2 222.03 L44.1 220.15 L45 218.3 L45.62 218.14 L46.25 218.03 L46.88 217.82 L47.5 217.61 L48.12 217.42 L48.75 217.29 L49.38 217.26 L50 217.25 L50.62 217.15 L51.25 217.15 L51.88 216.9 L52.5 216.93 L53.12 216.88 L53.75 216.86 L54.38 216.79 L55 216.83 L55.62 216.97 L56.25 217.08 L56.88 217 L57.5 217.14 L58.12 217.12 L58.75 217.1 L59.38 217.06 L60 217.1 L60.61 217.12 L61.21 217.08 L61.82 217.04 L62.42 217.1 L63.03 217.02 L63.63 216.93 L64.24 216.94 L64.84 216.92 L65.45 216.91 L66.05 216.78 L66.66 216.83 L67.26 216.86 L67.87 216.91 L68.47 216.88 L69.08 216.9 L69.68 216.78 L70.29 216.77 L70.89 216.81 L71.5 216.97 L72.11 217.03 L72.71 216.98 L73.32 216.96 L73.92 216.95 L74.53 216.89 L75.13 216.95 L75.74 216.95 L76.34 217.01 L76.95 217.01 L77.55 216.94 L78.16 216.81 L78.76 216.75 L79.37 216.7 L79.97 216.78 L80.58 216.7 L81.18 216.77 L81.79 216.76 L82.39 216.69 L83 216.62 L83.61 216.63 L84.21 216.61 L84.82 216.54 L85.42 216.45 L86.03 216.45 L86.63 216.49 L87.24 216.58 L87.84 216.74 L88.45 216.79 L89.05 216.78 L89.66 216.72 L90.26 216.72 L90.87 216.61 L91.47 216.57 L92.08 216.49 L92.68 216.49 L93.29 216.4 L93.89 216.34 L94.5 216.31 L95.11 216.25 L95.71 216.31 L96.32 216.32 L96.92 216.4 L97.53 216.38 L98.13 216.42 L98.74 216.36 L99.34 216.32 L99.95 216.15 L100.55 216.02 L101.16 215.88 L101.76 216.09 L102.37 216.11 L102.97 216.27 L103.58 216.25 L104.18 216.33 L104.79 216.4 L105.39 216.42 L106 216.51 L106.6 216.56 L107.21 216.47 L107.81 216.36 L108.41 216.23 L109.01 216.16 L109.62 216.12 L110.22 215.99 L110.82 216.18 L111.42 216.24 L112.03 216.32 L112.63 216.12 L113.23 216.16 L113.83 216.15 L114.44 216.17 L115.04 216.07 L115.64 215.99 L116.24 215.97 L116.85 216.07 L117.45 216.32 L118.05 216.44 L118.65 216.55 L119.26 216.44 L119.86 216.36 L120.46 216.14 L121.06 216.11 L121.67 215.96 L122.27 216.03 L122.87 216.15 L123.47 216.32 L124.08 216.42 L124.68 216.28 L125.28 216.16 L125.88 216.05 L126.49 216.05 L127.09 216.23 L127.69 216.4 L128.29 216.37 L128.9 216.27 L129.5 216.12 L130.1 216.15 L130.71 216.08 L131.31 216.1 L131.91 216.15 L132.51 216.26 L133.12 216.17 L133.72 216.14 L134.32 215.99 L134.92 216.14 L135.53 216.08 L136.13 216.18 L136.73 216.08 L137.33 216.12 L137.94 216.06 L138.54 215.97 L139.14 216.13 L139.74 216.22 L140.35 216.36 L140.95 216.39 L141.55 216.36 L142.15 216.38 L142.76 216.24 L143.36 216.33 L143.96 216.32 L144.56 216.35 L145.17 216.25 L145.77 216.23 L146.37 216.29 L146.97 216.16 L147.58 216.13 L148.18 216.02 L148.78 216.15 L149.38 216.02 L149.99 216.1 L150.59 216.06 L151.19 216.18 L151.79 216.1 L152.4 216.04 L153 216.03 L153.6 215.93 L154.21 215.98 L154.81 215.99 L155.41 216.12 L156.01 216.19 L156.62 216.2 L157.22 216.35 L157.82 216.38 L158.42 216.3 L159.03 216.11 L159.63 216.03 L160.23 216.11 L160.83 216.11 L161.44 216.09 L162.04 216.22 L162.64 216.26 L163.24 216.3 L163.85 216.17 L164.45 216.15 L165.05 216.27 L165.65 216.32 L166.26 216.41 L166.86 216.1 L167.46 216.09 L168.06 216.09 L168.67 216.44 L169.27 216.42 L169.87 216.23 L170.47 216.13 L171.08 216.09 L171.68 216.08 L172.28 216 L172.88 216.11 L173.49 216.32 L174.09 216.41 L174.69 216.27 L175.29 216.36 L175.9 216.23 L176.5 216.3 L177.1 216.02 L177.71 216.19 L178.31 216.23 L178.91 216.39 L179.51 216.31 L180.12 216.27 L180.72 216.22 L181.32 216.08 L181.92 216.16 L182.53 216.21 L183.13 216.31 L183.73 216.24 L184.33 216.2 L184.94 216.34 L185.54 216.37 L186.14 216.35 L186.74 216.21 L187.35 216.07 L187.95 216.03 L188.55 216.07 L189.15 216.15 L189.76 216.2 L190.36 216.25 L190.96 216.3 L191.56 216.31 L192.17 216.3 L192.77 216.29 L193.37 216.27 L193.97 216.25 L194.58 216.12 L195.18 216.21 L195.78 216.09 L196.38 216.27 L196.99 216.18 L197.59 216.35 L198.19 216.29 L198.79 216.22 L199.4 216.22 L200 216.23 L200.6 216.3 L201.2 216.23 L201.8 216.29 L202.4 216.34 L203 216.35 L203.6 216.17 L204.2 216.08 L204.8 216.07 L205.4 216.31 L206 216.36 L206.6 216.34 L207.2 216.3 L207.8 216.27 L208.4 216.27 L209 216.2 L209.6 216.1 L210.2 216.17 L210.8 216.19 L211.4 216.27 L212 216.12 L212.6 216.11 L213.2 216.22 L213.8 216.26 L214.4 216.17 L215 216.1 L215.6 216.03 L216.2 215.95 L216.8 215.89 L217.4 215.95 L218 216.08 L218.6 216.08 L219.2 216.15 L219.8 216.15 L220.4 216.14 L221 216.09 L221.6 216.15 L222.2 216.25 L222.8 216.35 L223.4 216.35 L224 216.05 L224.6 215.92 L225.2 215.85 L225.8 216.09 L226.4 216.05 L227 216.17 L227.6 216.17 L228.2 216.24 L228.8 216.15 L229.4 216.11 L230 216.1 L230.6 216.12 L231.2 216.11 L231.8 216.07 L232.4 215.99 L233 216.01 L233.6 216.03 L234.2 216.16 L234.8 216.09 L235.4 216.29 L236 216.26 L236.6 216.27 L237.2 216.16 L237.8 216.18 L238.4 216.23 L239 216.13 L239.6 216.06 L240.2 216.21 L240.8 216.19 L241.4 216.22 L242 216.08 L242.6 216.17 L243.2 216.11 L243.8 216.08 L244.4 216.16 L245 216.23 L245.6 216.18 L246.2 216.22 L246.8 216.09 L247.4 216.2 L248 216.1 L248.6 216.28 L249.2 216.25 L249.8 216.31 L250.4 216.23 L251 216.27 L251.6 216.22 L252.2 216.37 L252.8 216.25 L253.4 216.31 L254 216.19 L254.6 216.25 L255.2 216.13 L255.8 216.13 L256.4 216.01 L257 215.95 L257.6 215.97 L258.2 215.97 L258.8 216.16 L259.4 216.09 L260 216.21 L260.6 216.12 L261.2 216.17 L261.8 216.13 L262.4 216.1 L263 216.06 L263.6 216.15 L264.2 216.25 L264.8 216.35 L265.4 216.3 L266 216.21 L266.6 216 L267.2 216.02 L267.8 216.09 L268.4 216.18 L269 216.19 L269.6 216.22 L270.2 216.25 L270.8 216.27 L271.4 216.2 L272 216.07 L272.6 215.96 L273.2 215.91 L273.8 216.07 L274.4 216.04 L275 216.04 L275.6 215.93 L276.2 215.99 L276.8 216.02 L277.4 216.16 L278 216.21 L278.6 216.22 L279.2 216.17 L279.8 216.12 L280.4 216.11 L281 216.2 L281.6 216.02 L282.2 216 L282.8 215.92 L283.4 216.17 L284 216.1 L284.6 216.1 L285.2 216.08 L285.8 216.13 L286.4 215.97 L287 215.88 L287.6 215.83 L288.2 216.01 L288.8 215.97 L289.4 216.18 L290 216.14 L290.6 216.14 L291.2 215.98 L291.8 215.9 L292.4 215.98 L293 216.12 L293.6 216.18 L294.2 216.21 L294.8 216.04 L295.4 216.08 L296 216.17 L296.6 216.14 L297.2 216.2 L297.8 216.12 L298.4 216.09 L299 215.9 L299.6 215.75 L300.2 215.95 L300.8 216.02 L301.4 216.07 L302 216.05 L302.6 216.09 L303.2 216.12 L303.8 216.05 L304.4 216.11 L305 216.04 L305.6 216.18 L306.2 216.08 L306.8 216.08 L307.4 216 L308 216.06 L308.6 215.97 L309.2 215.94 L309.8 215.82 L310.4 215.9 L311 215.94 L311.6 215.97 L312.2 216.05 L312.8 215.97 L313.4 216.16 L314 216.13 L314.6 216.07 L315.2 215.86 L315.8 215.8 L316.4 215.89 L317 215.97 L317.6 216.1 L318.2 216.1 L318.8 216.11 L319.4 216.06 L320 216.04 L320.6 216.02" fill="none" stroke="#5ab8ee" stroke-width="1.4"/><path d="M43.2 223.08 L44.1 221.39 L45 219.58 L45.62 219.36 L46.25 219.2 L46.88 219.2 L47.5 219.1 L48.12 219.08 L48.75 219.04 L49.38 219.12 L50 219.03 L50.62 219.07 L51.25 219.15 L51.88 219.16 L52.5 219.08 L53.12 219.03 L53.75 218.92 L54.38 218.96 L55 218.75 L55.61 218.79 L56.21 218.51 L56.82 218.56 L57.42 218.47 L58.03 218.52 L58.63 218.57 L59.24 218.65 L59.84 218.61 L60.45 218.63 L61.05 218.53 L61.66 218.59 L62.26 218.44 L62.87 218.5 L63.47 218.41 L64.08 218.42 L64.68 218.38 L65.29 218.3 L65.89 218.23 L66.5 218.25 L67.11 218.27 L67.71 218.21 L68.32 218.11 L68.92 218.05 L69.53 218.1 L70.13 218.14 L70.74 218.18 L71.34 218.11 L71.95 218.08 L72.55 217.96 L73.16 217.78 L73.76 217.76 L74.37 217.72 L74.97 217.83 L75.58 217.73 L76.18 217.87 L76.79 217.83 L77.39 217.91 L78 217.81 L78.61 217.8 L79.22 217.67 L79.83 217.72 L80.43 217.83 L81.04 217.99 L81.65 218.07 L82.26 218.06 L82.87 218.02 L83.48 217.88 L84.09 217.86 L84.7 217.81 L85.3 217.75 L85.91 217.87 L86.52 217.76 L87.13 217.83 L87.74 217.72 L88.35 217.85 L88.96 217.76 L89.57 217.71 L90.17 217.66 L90.78 217.65 L91.39 217.65 L92 217.65 L92.61 217.68 L93.22 217.72 L93.83 217.67 L94.43 217.73 L95.04 217.63 L95.65 217.73 L96.26 217.7 L96.87 217.75 L97.48 217.65 L98.09 217.58 L98.7 217.5 L99.3 217.57 L99.91 217.67 L100.52 217.8 L101.13 217.74 L101.74 217.69 L102.35 217.5 L102.96 217.37 L103.57 217.3 L104.17 217.36 L104.78 217.4 L105.39 217.33 L106 217.4 L106.6 217.46 L107.21 217.46 L107.81 217.58 L108.41 217.65 L109.01 217.74 L109.62 217.63 L110.22 217.56 L110.82 217.7 L111.42 217.54 L112.03 217.5 L112.63 217.38 L113.23 217.44 L113.83 217.62 L114.44 217.52 L115.04 217.52 L115.64 217.44 L116.24 217.59 L116.85 217.71 L117.45 217.71 L118.05 217.83 L118.65 217.72 L119.26 217.71 L119.86 217.62 L120.46 217.63 L121.06 217.59 L121.67 217.5 L122.27 217.48 L122.87 217.42 L123.47 217.41 L124.08 217.35 L124.68 217.45 L125.28 217.38 L125.88 217.63 L126.49 217.72 L127.09 217.91 L127.69 217.75 L128.29 217.59 L128.9 217.6 L129.5 217.62 L130.1 217.7 L130.71 217.57 L131.31 217.63 L131.91 217.53 L132.51 217.59 L133.12 217.39 L133.72 217.4 L134.32 217.43 L134.92 217.52 L135.53 217.53 L136.13 217.55 L136.73 217.58 L137.33 217.69 L137.94 217.47 L138.54 217.51 L139.14 217.46 L139.74 217.52 L140.35 217.39 L140.95 217.42 L141.55 217.45 L142.15 217.49 L142.76 217.47 L143.36 217.52 L143.96 217.6 L144.56 217.5 L145.17 217.54 L145.77 217.58 L146.37 217.66 L146.97 217.49 L147.58 217.46 L148.18 217.44 L148.78 217.53 L149.38 217.58 L149.99 217.46 L150.59 217.65 L151.19 217.51 L151.79 217.73 L152.4 217.6 L153 217.55 L153.6 217.45 L154.21 217.48 L154.81 217.6 L155.41 217.67 L156.01 217.58 L156.62 217.58 L157.22 217.56 L157.82 217.6 L158.42 217.5 L159.03 217.38 L159.63 217.45 L160.23 217.57 L160.83 217.58 L161.44 217.44 L162.04 217.46 L162.64 217.41 L163.24 217.52 L163.85 217.38 L164.45 217.36 L165.05 217.36 L165.65 217.4 L166.26 217.62 L166.86 217.77 L167.46 217.77 L168.06 217.74 L168.67 217.65 L169.27 217.63 L169.87 217.5 L170.47 217.54 L171.08 217.55 L171.68 217.6 L172.28 217.47 L172.88 217.49 L173.49 217.45 L174.09 217.52 L174.69 217.61 L175.29 217.63 L175.9 217.48 L176.5 217.4 L177.1 217.32 L177.71 217.37 L178.31 217.45 L178.91 217.71 L179.51 217.78 L180.12 217.62 L180.72 217.52 L181.32 217.33 L181.92 217.36 L182.53 217.41 L183.13 217.61 L183.73 217.57 L184.33 217.35 L184.94 217.35 L185.54 217.44 L186.14 217.52 L186.74 217.49 L187.35 217.45 L187.95 217.36 L188.55 217.38 L189.15 217.38 L189.76 217.44 L190.36 217.29 L190.96 217.35 L191.56 217.37 L192.17 217.5 L192.77 217.47 L193.37 217.59 L193.97 217.52 L194.58 217.5 L195.18 217.29 L195.78 217.24 L196.38 217.33 L196.99 217.68 L197.59 217.66 L198.19 217.54 L198.79 217.36 L199.4 217.47 L200 217.5 L200.6 217.48 L201.2 217.33 L201.8 217.36 L202.4 217.41 L203 217.64 L203.6 217.64 L204.2 217.56 L204.8 217.48 L205.4 217.56 L206 217.61 L206.6 217.53 L207.2 217.48 L207.8 217.51 L208.4 217.51 L209 217.39 L209.6 217.36 L210.2 217.43 L210.8 217.59 L211.4 217.56 L212 217.49 L212.6 217.39 L213.2 217.31 L213.8 217.29 L214.4 217.28 L215 217.31 L215.6 217.46 L216.2 217.41 L216.8 217.44 L217.4 217.32 L218 217.5 L218.6 217.52 L219.2 217.54 L219.8 217.49 L220.4 217.47 L221 217.47 L221.6 217.51 L222.2 217.56 L222.8 217.71 L223.4 217.68 L224 217.68 L224.6 217.57 L225.2 217.42 L225.8 217.41 L226.4 217.4 L227 217.52 L227.6 217.47 L228.2 217.42 L228.8 217.3 L229.4 217.35 L230 217.48 L230.6 217.53 L231.2 217.51 L231.8 217.52 L232.4 217.48 L233 217.42 L233.6 217.25 L234.2 217.39 L234.8 217.43 L235.4 217.47 L236 217.27 L236.6 217.24 L237.2 217.34 L237.8 217.43 L238.4 217.41 L239 217.39 L239.6 217.32 L240.2 217.35 L240.8 217.35 L241.4 217.38 L242 217.32 L242.6 217.29 L243.2 217.34 L243.8 217.38 L244.4 217.37 L245 217.39 L245.6 217.34 L246.2 217.28 L246.8 217.3 L247.4 217.44 L248 217.57 L248.6 217.48 L249.2 217.48 L249.8 217.44 L250.4 217.49 L251 217.45 L251.6 217.45 L252.2 217.58 L252.8 217.47 L253.4 217.45 L254 217.32 L254.6 217.37 L255.2 217.41 L255.8 217.47 L256.4 217.42 L257 217.32 L257.6 217.28 L258.2 217.25 L258.8 217.32 L259.4 217.3 L260 217.41 L260.6 217.37 L261.2 217.5 L261.8 217.49 L262.4 217.44 L263 217.43 L263.6 217.4 L264.2 217.38 L264.8 217.17 L265.4 217.27 L266 217.33 L266.6 217.45 L267.2 217.39 L267.8 217.36 L268.4 217.27 L269 217.21 L269.6 217.24 L270.2 217.3 L270.8 217.47 L271.4 217.38 L272 217.34 L272.6 217.16 L273.2 217.3 L273.8 217.25 L274.4 217.37 L275 217.37 L275.6 217.45 L276.2 217.44 L276.8 217.2 L277.4 217.18 L278 217.01 L278.6 217.17 L279.2 217.2 L279.8 217.26 L280.4 217.31 L281 217.33 L281.6 217.34 L282.2 217.24 L282.8 217.12 L283.4 217.14 L284 217.32 L284.6 217.37 L285.2 217.41 L285.8 217.22 L286.4 217.33 L287 217.33 L287.6 217.35 L288.2 217.17 L288.8 217.1 L289.4 217.2 L290 217.3 L290.6 217.38 L291.2 217.26 L291.8 217.15 L292.4 217.13 L293 217.19 L293.6 217.27 L294.2 217.22 L294.8 217.21 L295.4 217.21 L296 217.26 L296.6 217.22 L297.2 217.1 L297.8 217.07 L298.4 217.04 L299 217.14 L299.6 217.18 L300.2 217.18 L300.8 217.28 L301.4 217.32 L302 217.36 L302.6 217.22 L303.2 217.09 L303.8 217.14 L304.4 217.23 L305 217.22 L305.6 217.15 L306.2 217.2 L306.8 217.28 L307.4 217.32 L308 217.23 L308.6 217.19 L309.2 217.13 L309.8 217.18 L310.4 217.06 L311 217.06 L311.6 216.97 L312.2 217.2 L312.8 217.33 L313.4 217.53 L314 217.49 L314.6 217.35 L315.2 217.3 L315.8 217.23 L316.4 217.3 L317 217.17 L317.6 217.14 L318.2 217.13 L318.8 217.31 L319.4 217.35 L320 217.47 L320.6 217.35" fill="none" stroke="#ea1c20" stroke-width="1.6"/><line x1="44.6" y1="197.7" x2="319.3" y2="197.7" stroke="#2a2a2a" stroke-width="1.6" stroke-dasharray="5.5 5.3" stroke-dashoffset="2.0"/><line x1="44.6" y1="222.7" x2="319.3" y2="222.7" stroke="#2a2a2a" stroke-width="1.6" stroke-dasharray="5.5 5.3" stroke-dashoffset="0.6"/><line x1="44.6" y1="197.7" x2="44.6" y2="222.7" stroke="#2a2a2a" stroke-width="1.6" stroke-dasharray="5.5 5.3" stroke-dashoffset="1.0"/><line x1="319.3" y1="197.7" x2="319.3" y2="222.7" stroke="#2a2a2a" stroke-width="1.6" stroke-dasharray="5.5 5.3" stroke-dashoffset="7.6"/><line x1="77.86" y1="131.86" x2="56.4" y2="198" stroke="#111" stroke-width="1.5" stroke-dasharray="4.8 3.9" stroke-dashoffset="7.7"/><path d="M79.5 127 L80.6 132.8 L75.4 131.1 Z" fill="#111"/><rect x="42.7" y="2.1" width="278.6" height="224.1" fill="none" stroke="#4e4e4e" stroke-width="1.2"/><path d="M42.7 226.2 v-4 M42.7 2.1 v4 M65.92 226.2 v-2.2 M65.92 2.1 v2.2 M89.13 226.2 v-4 M89.13 2.1 v4 M112.35 226.2 v-2.2 M112.35 2.1 v2.2 M135.57 226.2 v-4 M135.57 2.1 v4 M158.78 226.2 v-2.2 M158.78 2.1 v2.2 M182 226.2 v-4 M182 2.1 v4 M205.22 226.2 v-2.2 M205.22 2.1 v2.2 M228.43 226.2 v-4 M228.43 2.1 v4 M251.65 226.2 v-2.2 M251.65 2.1 v2.2 M274.87 226.2 v-4 M274.87 2.1 v4 M298.08 226.2 v-2.2 M298.08 2.1 v2.2 M321.3 226.2 v-4 M321.3 2.1 v4 M42.7 226.2 h4 M321.3 226.2 h-4 M42.7 211.26 h2.2 M321.3 211.26 h-2.2 M42.7 196.32 h4 M321.3 196.32 h-4 M42.7 181.38 h2.2 M321.3 181.38 h-2.2 M42.7 166.44 h4 M321.3 166.44 h-4 M42.7 151.5 h2.2 M321.3 151.5 h-2.2 M42.7 136.56 h4 M321.3 136.56 h-4 M42.7 121.62 h2.2 M321.3 121.62 h-2.2 M42.7 106.68 h4 M321.3 106.68 h-4 M42.7 91.74 h2.2 M321.3 91.74 h-2.2 M42.7 76.8 h4 M321.3 76.8 h-4 M42.7 61.86 h2.2 M321.3 61.86 h-2.2 M42.7 46.92 h4 M321.3 46.92 h-4 M42.7 31.98 h2.2 M321.3 31.98 h-2.2 M42.7 17.04 h4 M321.3 17.04 h-4 M42.7 2.1 h2.2 M321.3 2.1 h-2.2" stroke="#4e4e4e" stroke-width="1" fill="none"/><g font-size="9.8" fill="#222"><text x="40" y="230.5" text-anchor="end">0</text><text x="40" y="200.62" text-anchor="end">20</text><text x="40" y="170.74" text-anchor="end">40</text><text x="40" y="140.86" text-anchor="end">60</text><text x="40" y="110.98" text-anchor="end">80</text><text x="40" y="81.1" text-anchor="end">100</text><text x="40" y="51.22" text-anchor="end">120</text><text x="40" y="21.34" text-anchor="end">140</text><text x="42.7" y="237.9" text-anchor="middle">0</text><text x="89.13" y="237.9" text-anchor="middle">20</text><text x="135.57" y="237.9" text-anchor="middle">40</text><text x="182" y="237.9" text-anchor="middle">60</text><text x="228.43" y="237.9" text-anchor="middle">80</text><text x="274.87" y="237.9" text-anchor="middle">100</text><text x="321.3" y="237.9" text-anchor="middle">120</text></g><rect x="65.4" y="9.8" width="153.4" height="115.0" fill="#fff" stroke="none"/><path d="M70 71.79 L70.45 65.08 L70.9 65.69 L71.35 63.28 L71.8 62.3 L72.25 61.31 L72.7 60.29 L73.15 60.51 L73.6 60.19 L74.05 58.95 L74.5 58.21 L74.95 57.97 L75.4 55.87 L75.85 57.07 L76.3 55.39 L76.75 50.76 L77.2 46.83 L77.65 53.78 L78.1 54.5 L78.55 50.97 L79 49.22 L79.45 47.92 L79.9 49.82 L80.35 45.69 L80.8 49.08 L81.25 49.77 L81.7 49.01 L82.15 47.36 L82.6 47.36 L83.05 47.25 L83.5 43.82 L83.95 39.64 L84.4 45.43 L84.85 45.94 L85.3 43.06 L85.75 43.11 L86.2 44.09 L86.65 40.25 L87.1 39.41 L87.55 41 L88 40.88 L88.45 39.08 L88.9 35.3 L89.35 37.01 L89.8 33.64 L90.25 33.38 L90.7 32.34 L91 31.85 L91 37.98 L90.7 39.46 L90.25 36.63 L89.8 43.07 L89.35 39.98 L88.9 41.34 L88.45 43.77 L88 42.6 L87.55 47.1 L87.1 46.69 L86.65 46.34 L86.2 52.19 L85.75 48.5 L85.3 47.46 L84.85 50.05 L84.4 48.58 L83.95 51.78 L83.5 49.5 L83.05 59.66 L82.6 51.64 L82.15 55.25 L81.7 52.48 L81.25 52.99 L80.8 55.63 L80.35 54.91 L79.9 58.49 L79.45 58.56 L79 63.82 L78.55 60.98 L78.1 60 L77.65 58.18 L77.2 61.38 L76.75 61.35 L76.3 64.21 L75.85 63.34 L75.4 63.01 L74.95 63.72 L74.5 65.89 L74.05 64.34 L73.6 67.21 L73.15 69.13 L72.7 68.18 L72.25 76.26 L71.8 71.01 L71.35 73.25 L70.9 77.39 L70.45 72.25 L70 75.37Z" fill="#0a950a"/><path d="M89 31.18 L89.45 29.55 L89.9 28.99 L90.35 28.43 L90.8 27.81 L91.25 27.51 L91.7 24.91 L92.15 26.62 L92.6 25.92 L93.05 26.4 L93.5 25.05 L93.95 24.3 L94.4 24.8 L94.85 25.64 L95.3 24.06 L95.75 24.29 L96.2 23.82 L96.65 24.16 L97.1 23.89 L97.55 23 L98 23.25 L98.45 23.9 L98.9 23.85 L99.35 23.58 L99.8 23.39 L100.25 22.41 L100.7 22.24 L101.15 22.98 L101.6 21.38 L102.05 21.99 L102.5 20.6 L102.95 21.52 L103.4 21.29 L103.85 20.95 L104.3 22.18 L104.75 21.27 L105.2 21.52 L105.65 21.6 L106.1 21.17 L106.55 22.76 L107 21.44 L107.45 21.91 L107.9 20.88 L108.35 21.45 L108.8 21.55 L109.25 21.57 L109.7 20.94 L110.15 21.88 L110.6 22.81 L111.05 21.59 L111.5 19.27 L111.95 21.3 L112.4 23.25 L112.85 22.56 L113.3 21.78 L113.75 21.82 L114.2 19.69 L114.65 21.11 L115.1 21.31 L115.55 21.19 L116 20.46 L116.45 20.45 L116.9 21.29 L117.35 21.09 L117.8 19.37 L118.25 20.85 L118.7 21.69 L119.15 20.41 L119.6 21.05 L120.05 19.92 L120.5 21.52 L120.95 20.22 L121.4 20.16 L121.85 20.83 L122.3 22.71 L122.75 20.7 L123.2 20.28 L123.65 21.5 L124.1 21.37 L124.55 22.38 L125 20.41 L125.45 20.27 L125.9 21.23 L126.35 21.79 L126.8 21.87 L127.25 22.45 L127.7 20.77 L128.15 21.31 L128.6 21.87 L129.05 22.62 L129.5 21.77 L129.95 21.93 L130.4 21.6 L130.85 23 L131.3 23.13 L131.75 24.42 L132.2 22.52 L132.65 23.85 L133.1 21.99 L133.55 22.53 L134 22.52 L134.45 22.76 L134.9 22.56 L135.35 22.92 L135.8 23.4 L136.25 23.28 L136.7 24.18 L137.15 23.82 L137.6 24.02 L138.05 25.18 L138.5 24.53 L138.95 24.57 L139.4 24.6 L139.85 24.8 L140.3 25.3 L140.75 24.5 L141.2 25.98 L141.65 26.42 L142.1 24.29 L142.55 25.3 L143 24.52 L143 28.88 L142.55 31.16 L142.1 30.63 L141.65 29.93 L141.2 29.31 L140.75 28.24 L140.3 26.66 L139.85 29.46 L139.4 29.43 L138.95 28.21 L138.5 29.21 L138.05 28.35 L137.6 26.48 L137.15 31.78 L136.7 28.88 L136.25 25.94 L135.8 27.62 L135.35 28.12 L134.9 29 L134.45 28.6 L134 27.07 L133.55 28.24 L133.1 29.7 L132.65 29.21 L132.2 33.95 L131.75 29.71 L131.3 27.21 L130.85 29 L130.4 27.56 L129.95 31.56 L129.5 24.68 L129.05 28.07 L128.6 28.29 L128.15 25.51 L127.7 27.91 L127.25 27.91 L126.8 26.14 L126.35 29.52 L125.9 27.04 L125.45 27.92 L125 27.57 L124.55 26.58 L124.1 26.94 L123.65 28.36 L123.2 29.64 L122.75 26.78 L122.3 32.05 L121.85 26.95 L121.4 29.37 L120.95 29.68 L120.5 31.49 L120.05 28.74 L119.6 27.22 L119.15 29.77 L118.7 30.96 L118.25 29.25 L117.8 29.94 L117.35 28.46 L116.9 28.62 L116.45 30.64 L116 29.03 L115.55 28.19 L115.1 28.41 L114.65 30.53 L114.2 28.5 L113.75 28.47 L113.3 29.57 L112.85 28.98 L112.4 33.34 L111.95 33.71 L111.5 31.42 L111.05 32.34 L110.6 31.51 L110.15 31.06 L109.7 32.41 L109.25 35.57 L108.8 31.75 L108.35 31.6 L107.9 32.74 L107.45 34.52 L107 34.76 L106.55 34.78 L106.1 34.67 L105.65 31.55 L105.2 34.19 L104.75 36.31 L104.3 31.43 L103.85 36.85 L103.4 35.33 L102.95 38.2 L102.5 36.55 L102.05 37.9 L101.6 38.62 L101.15 38.91 L100.7 36.68 L100.25 35.88 L99.8 37.52 L99.35 41.11 L98.9 35.95 L98.45 36.54 L98 38.62 L97.55 42.91 L97.1 38.51 L96.65 40.66 L96.2 43.79 L95.75 41.74 L95.3 39.67 L94.85 39.76 L94.4 41.35 L93.95 42.3 L93.5 43.82 L93.05 42.45 L92.6 45.98 L92.15 46.86 L91.7 45.33 L91.25 48.8 L90.8 47.16 L90.35 47.99 L89.9 49.96 L89.45 52.93 L89 53.34Z" fill="#0a950a"/><path d="M65.8 62.91 L66.27 91.79 L66.75 63.25 L67.22 81.21 L67.7 68.28 L68.17 89.05 L68.65 67.98 L69.12 84.54 L69.6 68.28 L70.07 79 L70.55 64.73 L71.02 76.32 L71.5 64.13 L71.97 74.82 L72.45 55.51 L72.92 73.73 L73.4 58.99 L73.87 74.51 L74.35 51.55 L74.82 70.07 L75.3 54.93 L75.77 64.78 L76.25 55.67 L76.72 66.37 L77.2 53.54 L77.67 70.21 L78.15 47.25 L78.62 62.93 L79.1 46.77 L79.57 60.36 L80.05 42.87 L80.52 61.93 L81 43.75 L81.47 57.9 L81.95 44.64 L82.42 61.01 L82.9 44.29 L83.37 54.36 L83.85 42.46 L84.32 59.15 L84.8 41.37 L85.27 59 L85.75 39.45 L86.22 56.84 L86.7 42.31 L87.17 52.9 L87.65 36.81 L88.12 48.54 L88.6 32.2 L89.07 44.43 L89.55 33.63" fill="none" stroke="#0a950a" stroke-width="0.9"/><path d="M140 27.91 L140.5 27.09 L141 27.53 L141.5 27.38 L142 27.92 L142.5 28.18 L143 28.21 L143.5 27.92 L144 27.93 L144.5 28.8 L145 28.45 L145.5 29.65 L146 28.32 L146.5 29.17 L147 28.92 L147.5 28.65 L148 29.74 L148.5 29.26 L149 28.88 L149.5 29.25 L150 29.98 L150.5 28.78 L151 29.84 L151.5 29.37 L152 28.77 L152.5 29.38 L153 29.42 L153.5 28.73 L154 28.38 L154.5 29.01 L155 28.7 L155.5 27.42 L156 27.6 L156.5 27.45 L157 27.21 L157.5 26.55 L158 27.52 L158.5 26.99 L159 26.85 L159.5 27.31 L160 26.24 L160.5 26.37 L161 26.43 L161.5 26 L162 26.05 L162.5 26.36 L163 25.9 L163.5 26.42 L164 25.35 L164.5 25.69 L165 24.83 L165.5 25.34 L166 24.97 L166.5 25.84 L167 25.45 L167.5 25.24 L168 25.77 L168.5 25.48 L169 25.04 L169.5 24.28 L170 23.82 L170.5 24.01 L171 23.38 L171.5 22.76 L172 22.45 L172.5 21.33 L173 22.33 L173.5 20.62 L174 20.36 L174.5 20.47 L175.03 19.33 L175.57 20.43 L176.1 20.34 L176.63 19.65 L177.17 19.19 L177.7 19.38 L178.2 19.26 L178.7 21.31 L179.2 21.21 L179.7 21.37 L180.2 21.82 L180.7 23.05 L181.2 24.02 L181.7 23.23 L182.2 24.09 L182.7 24.06 L183.2 25.74 L183.7 26.03 L184.2 27.55 L184.7 26.95 L185.2 27.34 L185.7 27.74 L186.2 29 L186.73 27.5 L187.25 28.3 L187.78 27.73 L188.31 27.05 L188.84 26.54 L189.36 27.14 L189.89 27.19 L190.42 25.77 L190.95 25.91 L191.47 26.15 L192 24.71 L192.5 25.1 L193 24.86 L193.5 25.58 L194 25.83 L194.5 25.88 L195 25.95 L195.5 25.77 L196 26.1 L196.5 26.49 L197 27.47 L197.5 27.14 L198 27.2 L198.5 27.78 L199 27.61 L199.5 26.86 L200 26.79 L200.5 27.27 L201 27 L201.5 26.3 L202 26.69 L202.5 26.43 L203 26.84 L203.5 25.77 L204 26.48 L204.5 26.13 L205 25.32 L205.51 26.54 L206.01 26.7 L206.52 25.87 L207.02 27.68 L207.53 26.42 L208.03 26.76 L208.54 27.28 L209.04 28.03 L209.55 28.18 L210.06 28.09 L210.56 29.02 L211.07 28.79 L211.57 29.5 L212.08 30.41 L212.58 29.39 L213.09 28.3 L213.59 29.55 L214.1 29.48 L214.68 29.14 L215.26 28.25 L215.84 26.71 L216.42 25.85 L217 25.37 L217.53 25.64 L218.07 24.72 L218.6 26.67" fill="none" stroke="#0a950a" stroke-width="2.4"/><line x1="85.2" y1="10.2" x2="85.2" y2="40" stroke="#0a950a" stroke-width="1"/><path d="M66.5 124.02 L67 115.99 L67.5 108.23 L68 99.21 L68.5 97.21 L69 95.3 L69.5 92.58 L70 89.36 L70.5 87.66 L71 86.12 L71.5 86.65 L72 84.91 L72.5 83.05 L73 80.57 L73.5 80.45 L74 78.5 L74.5 80.52 L75 79.25 L75.5 76.79 L76 77.98 L76.5 79.77 L77 78.25 L77.5 75.8 L78 76.3 L78.5 74.99 L79 74.15 L79.5 75.19 L80 76.49 L80.5 75.64 L81 74.27 L81.5 73.76 L82 74.02 L82.5 74.49 L83 72.36 L83.5 68.96 L84 70.67 L84.5 69.4 L85 70.44 L85.5 69.35 L86 70.32 L86.5 68.66 L87 69.53 L87.5 70.35 L88 69.92 L88.5 65.75 L89 69.8 L89.5 68.56 L90 67.95 L90.5 69.48 L91 70.16 L91.5 69.72 L92 68.04 L92.5 69.72 L93 69.56 L93.5 68.65 L94 67.03 L94.5 69.79 L95 69.37 L95.5 69.36 L96 67.59 L96.5 67.77 L97 69.74 L97.5 69.09 L98 69.32 L98.5 68.72 L99 69.22 L99.5 66.76 L100 68.64 L100.5 68.19 L101 67.83 L101.5 68.52 L102 69.6 L102.5 69.41 L103 68.18 L103.5 70.28 L104 67.91 L104.5 69.16 L105 69.65 L105.5 69.8 L106 67.01 L106.5 69.56 L107 69.72 L107.5 69.89 L108 65.86 L108.5 68.18 L109 68.63 L109.5 67.25 L110 69.76 L110.5 68.14 L111 66.96 L111.5 69.11 L112 67.49 L112.5 67.85 L113 68.26 L113.5 68.7 L114 69.41 L114.5 67.98 L115 68.51 L115.5 67.33 L116 66.14 L116.5 68.3 L117 68.92 L117.5 68.26 L118 67.73 L118.5 68.87 L119 70.07 L119.5 68.43 L120 66.16 L120.5 66.12 L121 69.98 L121.5 68.33 L122 68.81 L122.5 69.25 L123 69.09 L123.5 67.44 L124 68.9 L124.5 68.77 L125 68.44 L125.5 68.81 L126 65.68 L126.5 65.72 L127 67.3 L127.5 69.11 L128 67.98 L128.5 67.71 L129 67.62 L129.5 68.4 L130 68.21 L130.5 68.41 L131 68.61 L131.5 68.35 L132 68.32 L132.5 66.84 L133 69.38 L133.5 68 L134 68.3 L134.5 67.84 L135 69.3 L135.5 65.86 L136 68.9 L136.5 69.44 L137 68.84 L137.5 69.45 L138 69 L138.5 67.54 L139 69.53 L139.5 69.45 L140 69.17 L140.5 69.14 L141 68.56 L141.5 68.09 L142 69.37 L142.5 68.07 L143 67.67 L143.5 69.23 L144 68.7 L144.5 69.21 L145 68.73 L145 73.5 L144.5 73.36 L144 72.87 L143.5 74.3 L143 73.01 L142.5 72.25 L142 73.37 L141.5 73.34 L141 74.65 L140.5 72.64 L140 72.38 L139.5 72.85 L139 73.34 L138.5 72.69 L138 73.31 L137.5 73.73 L137 71.94 L136.5 72.46 L136 72.72 L135.5 72.51 L135 72.27 L134.5 72.17 L134 71.94 L133.5 72.51 L133 73 L132.5 71.87 L132 72.72 L131.5 72.11 L131 72.13 L130.5 72.67 L130 72.39 L129.5 72.78 L129 72.62 L128.5 72.15 L128 73.19 L127.5 73.31 L127 72.56 L126.5 72.32 L126 72.64 L125.5 72.14 L125 74.11 L124.5 72.47 L124 73.08 L123.5 74.58 L123 72.74 L122.5 72.05 L122 72.85 L121.5 73.21 L121 70.99 L120.5 72.55 L120 72.52 L119.5 72.62 L119 72.82 L118.5 72.94 L118 74.19 L117.5 71.98 L117 74.33 L116.5 73.8 L116 73.74 L115.5 72.88 L115 74.67 L114.5 73.01 L114 73.59 L113.5 72.01 L113 72.93 L112.5 73.09 L112 74.86 L111.5 73.38 L111 73.37 L110.5 74.07 L110 74.05 L109.5 73.43 L109 73.18 L108.5 74.59 L108 73.77 L107.5 73.13 L107 72.18 L106.5 72.42 L106 73.31 L105.5 73.53 L105 73.37 L104.5 73.47 L104 74.18 L103.5 73.52 L103 75.58 L102.5 75 L102 74.2 L101.5 73.82 L101 75.33 L100.5 74.29 L100 73.47 L99.5 74.31 L99 74.02 L98.5 74.69 L98 75.69 L97.5 73.69 L97 73.21 L96.5 76.76 L96 75.17 L95.5 74.09 L95 76.45 L94.5 73.77 L94 76.83 L93.5 74.44 L93 74.99 L92.5 75.47 L92 74.61 L91.5 76.57 L91 74.89 L90.5 75.48 L90 74.82 L89.5 75.08 L89 75.72 L88.5 75.03 L88 75.52 L87.5 75.49 L87 77.02 L86.5 75.02 L86 75.69 L85.5 74.12 L85 75.14 L84.5 76.57 L84 75.8 L83.5 78.4 L83 83.36 L82.5 83.9 L82 83.46 L81.5 84.74 L81 84.64 L80.5 83.85 L80 84.93 L79.5 85.16 L79 86.22 L78.5 86.04 L78 87.44 L77.5 87.35 L77 87.49 L76.5 88.6 L76 88.19 L75.5 89.23 L75 89.21 L74.5 90.04 L74 88.94 L73.5 91.41 L73 92.12 L72.5 93.37 L72 93.11 L71.5 95.74 L71 95.97 L70.5 95.05 L70 97.57 L69.5 99.86 L69 104.55 L68.5 108.92 L68 110.91 L67.5 117.05 L67 121.49 L66.5 125.89Z" fill="#18c2c8"/><path d="M144 71.13 L144.5 70.45 L145 71.18 L145.5 70.21 L146 70.51 L146.5 70.33 L147 71.4 L147.5 70.25 L148 70.5 L148.5 71.2 L149 71.05 L149.5 71.82 L150 71.7 L150.5 71.4 L151 71.58 L151.5 70.78 L152 71.3 L152.5 71.67 L153 71.89 L153.5 71.59 L154 71.92 L154.5 72.12 L155 73.01 L155.5 72.93 L156 72.81 L156.5 73 L157 73.39 L157.5 73.18 L158 73.51 L158.5 73.12 L159 74.21 L159.5 74.49 L160 74.43 L160.5 74.64 L161 74.76 L161.5 75.57 L162 75.04 L162.5 74.62 L163 74.9 L163.5 75.48 L164 75.52 L164.5 75.32 L165 75.25 L165.5 74.91 L166 74.17 L166.5 74.38 L167 73.86 L167.5 74.32 L168 73.85 L168.5 74.31 L169 74.12 L169.5 73.35 L170 74.28 L170.5 74.24 L171 73.37 L171.5 73.9 L172 74.07 L172.5 73.64 L173 74.03 L173.5 73.72 L174 74.01 L174.5 73.62 L175 73.43 L175.5 73.64 L176 73.7 L176.5 73.44 L177 73.12 L177.5 72.94 L178 73.05 L178.5 72.93 L179 73.17 L179.5 73.11 L180 72.96 L180.5 72.98 L181 73.03 L181.5 73.55 L182 73.4 L182.5 72.7 L183 73.07 L183.5 72.76 L184 72.84 L184.5 72.77 L185 72.6 L185.5 72.31 L186 71.87 L186.5 72.88 L187 73.24 L187.5 72.42 L188 72.95 L188.5 72.59 L189 72.83 L189.5 72.4 L190 72.6 L190.5 72.64 L191 71.75 L191.5 72.73 L192 72.58 L192.5 71.66 L193 72.85 L193.5 72.57 L194 72.65 L194.5 72.7 L195 72.38 L195.5 72.11 L196 72.34 L196.5 72.33 L197 73.34 L197.5 73.18 L198 72.26 L198.5 72.28 L199 72.55 L199.5 72.62 L200 72.12 L200.5 71.98 L201.01 73.1 L201.51 72.73 L202.01 71.7 L202.51 71.6 L203.02 71.94 L203.52 72.32 L204.02 72.43 L204.52 72.06 L205.03 71.55 L205.53 72.24 L206.03 72.36 L206.54 72.11 L207.04 71.89 L207.54 72.29 L208.04 72.02 L208.55 71.59 L209.05 72.04 L209.55 71.47 L210.05 72.33 L210.56 72.12 L211.06 71.53 L211.56 71.97 L212.06 72.36 L212.57 71.01 L213.07 71.77 L213.57 72.44 L214.08 71.18 L214.58 71.7 L215.08 71.18 L215.58 71.69 L216.09 70.76 L216.59 71.04 L217.09 71.44 L217.59 71.69 L218.1 71.76 L218.6 71.75" fill="none" stroke="#18c2c8" stroke-width="2.8"/><path d="M66 124.77 L66.5 118.91 L67 113.17 L67.5 103.95 L68 95.35 L68.5 94.67 L69 92.95 L69.5 91.1 L70 89.57 L70.56 89.51 L71.11 89.04 L71.67 89.49 L72.23 88.79 L72.79 88.73 L73.34 89.15 L73.9 87.98 L74.44 88.66 L74.99 88.23 L75.53 88.57 L76.08 88.78 L76.62 88.8 L77.17 89 L77.71 88.85 L78.26 89.09 L78.8 88.9 L79.35 88.3 L79.9 87.25 L80.45 86.95 L81 85.67 L81.57 84.03 L82.13 81.62 L82.7 79.52 L83.2 80.37 L83.7 80.59 L84.2 80.58 L84.7 81.65 L85.2 81.29 L85.7 82.56 L86.26 81.92 L86.81 81.2 L87.37 81.1 L87.93 80.53 L88.49 80.63 L89.04 79.56 L89.6 79.67 L90.15 79.51 L90.7 78.99 L91.25 78.92 L91.8 79.42 L92.35 79.03 L92.9 79.08 L93.45 78.95 L94 78.69 L94.5 78.9 L95 78.76 L95.5 78.62 L96 78.94 L96.5 79.45 L97 79.42 L97.5 79 L98 79.06 L98.5 79.15 L99 79.37 L99.5 79.11 L100 78.92 L100.5 78.95 L101 79.33 L101.5 79.7 L102 78.9 L102.5 78.55 L103 79.26 L103.5 79.05 L104 79.1 L104.5 79.38 L105 79.09 L105.5 78.75 L106 78.6 L106.5 79.08 L107 78.8 L107.5 79.17 L108 78.78 L108.5 79.02 L109 78.74 L109.5 79.02 L110 79 L110.5 79.27 L111 79.46 L111.5 79.08 L112 78.92 L112.5 79.62 L113 79.23 L113.5 79.3 L114 79.3 L114.5 79.51 L115 79.41 L115.5 79.33 L116 79.35 L116.5 78.95 L117 79.02 L117.5 79.15 L118 79.2 L118.5 79.19 L119 79.26 L119.5 79.2 L120 79.09 L120.5 78.85 L121 79.53 L121.5 79.53 L122 79.22 L122.5 79.63 L123 79.67 L123.5 79.65 L124 79.23 L124.5 79.46 L125 79.67 L125.5 80.28 L126 79.73 L126.5 79.92 L127 79.79 L127.5 80.01 L128 80.28 L128.5 79.52 L129 79.18 L129.5 79.9 L130 79.59 L130.5 79.27 L131 79.51 L131.5 79.36 L132 78.44 L132.5 78.76 L133 78.93 L133.5 78.33 L134 78.27 L134.5 78.43 L135 77.97 L135.5 77.58 L136 77.56 L136.5 77.24 L137 77.56 L137.5 76.83 L138 77.36 L138.5 76.55 L139 76.81 L139.5 76.28 L140 76.41 L140.5 76.73 L141 76.73 L141.5 76.75 L142 76.38 L142.5 76.4 L143 76.41 L143.5 76.48 L144 76.21 L144.5 76.56 L145 76.34 L145.5 76.52 L146 76.33 L146.5 76.36 L147 75.98 L147.5 76.04 L148 75.8 L148.5 76.02 L149 76.03 L149.5 76.26 L150 75.71 L150.5 76.81 L151 75.95 L151.5 76.27 L152 76.19 L152.5 75.28 L153 75.82 L153.5 76.23 L154 75.23 L154.5 76.01 L155 75.56 L155.5 75.5 L156 75.49 L156.5 74.79 L157 75.12 L157.5 74.73 L158 74.53 L158.5 74.71 L159 75.23 L159.5 74.26 L160 74.13 L160.5 73.92 L161 73.69 L161.5 73.88 L162 74.13 L162.5 73.74 L163 73.86 L163.5 73.52 L164 74.14 L164.5 73.04 L165 73.54 L165.5 73.47 L166 73.34 L166.5 72.93 L167 72.87 L167.5 73.03 L168 73.06 L168.5 72.67 L169 72.65 L169.5 72.99 L170 73.05 L170.5 72.59 L171 72.5 L171.5 72.43 L172 73.17 L172.5 72.61 L173 72.41 L173.5 72.62 L174 72.89 L174.5 72.54 L175 71.83 L175.5 72.11 L176 71.97 L176.5 71.93 L177 71.65 L177.5 71.79 L178 71.56 L178.5 71.86 L179 71.72 L179.5 71.3 L180 71.16 L180.5 71.37 L181 71.55 L181.5 71.41 L182 71.17 L182.3 67.96 L182.6 71.07 L183.13 70.91 L183.67 70.92 L184.2 70.61 L184.73 70.71 L185.27 70.57 L185.8 71.32 L186.33 70.72 L186.87 70.41 L187.4 70.35 L187.93 70.24 L188.47 70.23 L189 69.99 L189.2 67.79 L189.5 70.35 L190 70.29 L190.5 70.16 L191 70.41 L191.5 70.13 L192 69.82 L192.5 69.62 L193 69.88 L193.5 70.04 L194 70.15 L194.5 70.31 L195 69.89 L195.5 69.83 L196 70.22 L196.5 70.32 L197 69.9 L197.5 70.1 L198 70.35 L198.5 70.08 L199 69.99 L199.5 69.47 L200 70.32 L200.5 70.11 L201 69.93 L201.5 69.74 L202 69.5 L202.5 69.75 L203 69.7 L203.5 69.96 L204 69.34 L204.5 69.96 L205 69.57 L205.5 69.81 L206 69.23 L206.5 69.51 L207 69.69 L207.5 69.37 L208 68.93 L208.5 69.17 L209 69.34 L209.5 68.82 L210 68.76 L210.5 69.14 L211 68.8 L211.5 69.16 L212 68.66 L212.5 68.45 L213 68.67 L213.5 69.19 L214 68.56 L214.5 68.73 L215 68.75 L215.5 68.31 L216 68.68 L216.5 68.31 L217 68.24 L217.5 67.57 L218.05 66.8 L218.6 65.8" fill="none" stroke="#ea1c20" stroke-width="1.4"/><rect x="65.4" y="9.8" width="153.4" height="115.0" fill="none" stroke="#8a8a8a" stroke-width="1.1"/><path d="M65.4 124.8 v-2.4 M65.4 9.8 v2.4 M78.17 124.8 v-1.6 M78.17 9.8 v1.6 M90.93 124.8 v-2.4 M90.93 9.8 v2.4 M103.7 124.8 v-1.6 M103.7 9.8 v1.6 M116.47 124.8 v-2.4 M116.47 9.8 v2.4 M129.23 124.8 v-1.6 M129.23 9.8 v1.6 M142 124.8 v-2.4 M142 9.8 v2.4 M154.77 124.8 v-1.6 M154.77 9.8 v1.6 M167.53 124.8 v-2.4 M167.53 9.8 v2.4 M180.3 124.8 v-1.6 M180.3 9.8 v1.6 M193.07 124.8 v-2.4 M193.07 9.8 v2.4 M205.83 124.8 v-1.6 M205.83 9.8 v1.6 M218.6 124.8 v-2.4 M218.6 9.8 v2.4 M65.4 125 h2.4 M218.8 125 h-2.4 M65.4 112.15 h1.6 M218.8 112.15 h-1.6 M65.4 99.3 h2.4 M218.8 99.3 h-2.4 M65.4 86.45 h1.6 M218.8 86.45 h-1.6 M65.4 73.6 h2.4 M218.8 73.6 h-2.4 M65.4 60.75 h1.6 M218.8 60.75 h-1.6 M65.4 47.9 h2.4 M218.8 47.9 h-2.4 M65.4 35.05 h1.6 M218.8 35.05 h-1.6 M65.4 22.2 h2.4 M218.8 22.2 h-2.4" stroke="#8a8a8a" stroke-width="0.9" fill="none"/><g font-size="7" font-weight="bold" fill="#222"><text x="64.6" y="128.1" text-anchor="end">2</text><text x="64.6" y="102.4" text-anchor="end">4</text><text x="64.6" y="76.7" text-anchor="end">6</text><text x="64.6" y="51" text-anchor="end">8</text><text x="64.6" y="25.3" text-anchor="end">10</text><text x="65.4" y="133" text-anchor="middle">0</text><text x="90.93" y="133" text-anchor="middle">20</text><text x="116.47" y="133" text-anchor="middle">40</text><text x="142" y="133" text-anchor="middle">60</text><text x="167.53" y="133" text-anchor="middle">80</text><text x="193.07" y="133" text-anchor="middle">100</text><text x="218.6" y="133" text-anchor="middle">120</text></g><g font-size="11.4" fill="#111"><line x1="237.6" y1="19.8" x2="265.2" y2="19.8" stroke="#06067f" stroke-width="1.8" stroke-opacity="0.8"/><text x="268.2" y="23.9">TFSAA</text><line x1="237.6" y1="33.9" x2="265.2" y2="33.9" stroke="#fdc00e" stroke-width="1.8" stroke-opacity="0.8"/><text x="268.2" y="38">PEO-300</text><line x1="237.6" y1="48.0" x2="265.2" y2="48.0" stroke="#0a950a" stroke-width="1.8" stroke-opacity="0.8"/><text x="268.2" y="52.1">PEO-500</text><line x1="237.6" y1="62.8" x2="265.2" y2="62.8" stroke="#5ab8ee" stroke-width="1.8" stroke-opacity="0.8"/><text x="268.2" y="66.9">PEO-600</text><line x1="237.6" y1="76.8" x2="265.2" y2="76.8" stroke="#ea1c20" stroke-width="1.8" stroke-opacity="0.8"/><text x="268.2" y="80.9">PEO-700</text></g><text x="182.65" y="249.8" text-anchor="middle" font-size="11.8" fill="#111">Time (min)</text><text transform="translate(22.6 104.5) rotate(-90)" text-anchor="middle" font-size="11.65" fill="#111">Current density (<tspan font-family="Liberation Serif">&#956;</tspan>A/cm<tspan font-size="7.5" dy="-4.8">2</tspan><tspan dy="4.8">)</tspan></text><text x="0" y="21.6" font-family="Liberation Serif" font-size="18.4" fill="#111">(a)</text><rect x="382.0" y="2.2" width="276.6" height="223.3" fill="none" stroke="#4e4e4e" stroke-width="1.2"/><path d="M383 34.03 L383.38 33.52 L383.75 33.43 L384.12 33.28 L384.5 33.08 L384.88 32.51 L385.25 32.51 L385.62 32.24 L386 31.86 L386.38 31.91 L386.75 31.34 L387.12 30.96 L387.5 30.86 L387.88 30.85 L388.25 31.55 L388.62 31.75 L389 31.86 L389.38 32.26 L389.75 32.52 L390.12 32.97 L390.5 32.93 L390.87 33.68 L391.23 34.42 L391.6 35.47 L391.8 47.81 L392.5 51.98 L392.9 54.21 L393.3 56.25 L393.75 57.29 L394.2 58.65" fill="none" stroke="#06067f" stroke-width="1.8" stroke-linejoin="round" stroke-linecap="round"/><path d="M394.3 58.5 L394.3 92.4" fill="none" stroke="#06067f" stroke-width="1.2" stroke-linejoin="round" stroke-linecap="round"/><path d="M394.5 60.86 L395.1 64.04 L395.7 67.68 L396.1 67.35 L396.5 64.82 L396.9 62.94 L397.26 63.22 L397.62 63.11 L397.99 62.87 L398.35 63.17 L398.71 63.31 L399.07 63.31 L399.44 63.51 L399.8 62.69 L400.2 65.14 L400.6 68.33 L401 70.25 L401.6 76.75 L402.07 77.32 L402.53 77.61 L403 79.21 L403.4 78.57 L403.8 78.95 L404.2 79.22 L404.6 79.46 L405 78.59 L405.36 78.81 L405.71 78.61 L406.07 78.73 L406.43 77.47 L406.79 78.19 L407.14 78.38 L407.5 78.38 L407.86 77.89 L408.21 78.4 L408.57 78.44 L408.93 78.01 L409.29 77.85 L409.64 77.74 L410 77.86 L410.36 78.3 L410.71 78.47 L411.07 77.82 L411.43 77.71 L411.79 77.82 L412.14 78.51 L412.5 78.29 L412.86 78.38 L413.21 78.5 L413.57 78.52 L413.93 78.4 L414.29 78.13 L414.64 78.34 L415 78.66 L415.38 78.99 L415.75 78.96 L416.12 79.18 L416.5 80.06 L416.88 79.63 L417.25 80.12 L417.62 80.16 L418 80.21 L418.4 80.47 L418.8 81.32 L419.2 81.72 L419.6 82.82 L420 82.6 L420.38 83.24 L420.75 84 L421.12 84.1 L421.5 84.69 L421.88 85.19 L422.25 84.67 L422.62 85.49 L423 85.67 L423.38 86.77 L423.75 86.52 L424.12 87.02 L424.5 87.72 L424.88 87.26 L425.25 87.69 L425.62 88.09 L426 88.12" fill="none" stroke="#06067f" stroke-width="3.2" stroke-linejoin="round" stroke-linecap="round"/><path d="M426.3 82.6 L426.3 142.3" fill="none" stroke="#06067f" stroke-width="1.2" stroke-linejoin="round" stroke-linecap="round"/><path d="M426.6 140.48 L426.98 140.37 L427.37 140.53 L427.75 140.86 L428.13 141.18 L428.52 140.93 L428.9 142.18 L429.27 139.74 L429.65 136.71 L430.02 133.84 L430.4 131.44 L430.77 131.53 L431.15 131.59 L431.52 132.28 L431.9 131.08 L432.27 131.65 L432.65 131.81 L433.02 131.54 L433.4 131.41 L433.77 131.83 L434.14 132.82 L434.51 134.2 L434.89 135.32 L435.26 135.15 L435.63 136.45 L436 137.26 L436.4 137.88 L436.8 137.93 L437.2 138.42 L437.6 139.03 L438 138.49 L438.4 137.94 L438.8 136.01 L439.2 134.82 L439.6 134.24 L440 132.82 L440.4 134.25 L440.8 134.97 L441.2 134.88 L441.6 135.45 L442 135.91 L442.4 136.8 L442.8 137.88 L443.2 138.88 L443.6 139.41 L444 140.16 L444.37 140.03 L444.74 140.38 L445.11 139.58 L445.48 140.18 L445.84 139.16 L446.21 139.64 L446.58 138.22 L446.95 138.2 L447.32 138.48 L447.69 138.24 L448.06 137.69 L448.42 138.44 L448.79 137.3 L449.16 137.15 L449.53 136.51 L449.9 137.27 L450.26 136.87 L450.63 136.63 L450.99 135.67 L451.36 136.54 L451.72 136.13 L452.09 136.48 L452.45 136.68 L452.81 135.89 L453.18 136.29 L453.54 136.56 L453.91 136.2 L454.27 135.94 L454.64 135.57 L455 135.71 L455.35 135.34 L455.7 136.26 L456.05 135.76 L456.4 135.07 L456.75 135.51 L457.1 134.83 L457.45 133.83 L457.8 135.76 L458.15 135.64 L458.5 134.35 L458.85 134.59 L459.2 134.91 L459.55 134.54 L459.9 134.23 L460.25 134.28 L460.6 134.31 L460.95 134.06 L461.3 134.31 L461.65 134.01 L462 133.67 L462.35 133.92 L462.7 133.06 L463.05 134.37 L463.4 132.83 L463.75 133.48 L464.1 133.57 L464.45 133.5 L464.8 133.33 L465.15 133.57 L465.51 132.27 L465.86 132.53 L466.21 132.41 L466.56 131.9 L466.92 131.64 L467.27 132.27 L467.62 131.15 L467.98 131.04 L468.33 130.91 L468.68 130.72 L469.04 130.67 L469.39 130.29 L469.74 130.33 L470.09 130.01 L470.45 129.95 L470.8 130.13 L471.18 129.09 L471.56 130.16 L471.95 129.17 L472.33 129.63 L472.71 129.36 L473.09 129.11 L473.47 128.31 L473.85 129.87 L474.24 128.76 L474.62 128.7 L475 129.49 L475.38 129.23 L475.75 130.24 L476.12 130.33 L476.5 130.08 L476.88 130.06 L477.25 130.48 L477.62 129.73 L478 130.59" fill="none" stroke="#06067f" stroke-width="3.3" stroke-linejoin="round" stroke-linecap="round"/><path d="M478.2 130.1 L478.8 145.23 L479.17 145.75 L479.53 144.81 L479.9 146.3 L480.27 146.62 L480.63 145.16 L481 146.1 L481.36 146.37 L481.71 145.12 L482.07 143.68 L482.43 143.14 L482.79 143.67 L483.14 143.68 L483.5 141.36 L483.88 141.79 L484.25 141.05 L484.62 141.09 L485 141.2 L485.38 140.86 L485.75 140.35 L486.12 141.89 L486.5 140.42 L486.88 140.28 L487.25 140.92 L487.62 140.14 L488 139.89 L488.38 140.45 L488.75 139.15 L489.12 140.08 L489.5 140.13 L489.85 140.06 L490.2 139.71 L490.55 139.96 L490.9 139.09 L491.25 140.18 L491.6 140.58 L491.95 141.08 L492.3 140.8 L492.65 140.63 L493 140.51 L493.36 141.21 L493.73 141.55 L494.09 142.41 L494.45 141.93 L494.82 141.85 L495.18 142.31 L495.55 142.32 L495.91 142.69 L496.27 141.75 L496.64 142.34 L497 142.8 L497.35 144.03 L497.7 143.94 L498.06 144.31 L498.41 145.15 L498.76 144.08 L499.11 145.62 L499.47 145.41 L499.82 144.99 L500.17 146.54 L500.52 145.05 L500.88 145.46 L501.23 146.24 L501.58 146.85 L501.93 146.73 L502.29 145.82 L502.64 147.14 L502.99 147.51 L503.34 149.31 L503.7 148.85 L504.05 148.35 L504.4 147.86 L504.75 148.87 L505.1 148.13 L505.45 149.1 L505.8 149.35 L506.15 149.05 L506.5 149.6 L506.85 149.41 L507.2 149.42 L507.55 150.83 L507.9 150.42 L508.25 150.05 L508.6 149.93 L508.95 150.65 L509.3 151.03 L509.65 151.36 L510 151.88 L510.38 151.53 L510.75 150.85 L511.12 152.96 L511.5 152.7 L511.88 152.75 L512.25 153.3 L512.62 151.88 L513 152.79 L513.38 153.21 L513.75 154.71 L514.12 153.81 L514.5 154.82 L514.88 156.41 L515.25 156.39 L515.62 156.28 L516 158.12 L516.36 156.36 L516.73 157.55 L517.09 157.28 L517.45 157.86 L517.82 157.53 L518.18 157.33 L518.55 158.09 L518.91 157.32 L519.27 158.55 L519.64 158.18 L520 159.05 L520.36 158.36 L520.72 158.34 L521.08 159.08 L521.44 159.69 L521.8 157.85 L522.16 159.26 L522.52 159.67 L522.88 158.57 L523.24 159.01 L523.6 160.02 L523.96 159.26 L524.32 159.49 L524.68 161 L525.04 159.54 L525.4 159.7 L525.77 158.95 L526.15 159.78 L526.52 159.8 L526.9 161.65 L527.27 161.47 L527.65 160.11 L528.02 162.13 L528.4 161.53 L528.77 161.07 L529.15 161.77 L529.52 161.62 L529.9 161.05 L530.26 160.39 L530.63 160.82 L530.99 161.29 L531.36 161.01 L531.72 160.71 L532.09 161.65 L532.45 160.38 L532.81 161.46 L533.18 160.58 L533.54 160.86 L533.91 160.06 L534.27 160.64 L534.64 160.11 L535 159.47 L535.35 160.42 L535.71 160.32 L536.06 160.76 L536.42 160.36 L536.77 159.52 L537.12 159.68 L537.48 158.5 L537.83 159.23 L538.18 160.58 L538.54 160.63 L538.89 160.11 L539.25 159.76 L539.6 159.85 L540.07 160.29 L540.53 159.48 L541 160.49 L541.4 163.31 L541.8 164.9 L542.2 165.95 L542.6 167.22 L543 168.78 L543.37 168.82 L543.73 168.72 L544.1 168.26 L544.47 169.63 L544.83 169.4 L545.2 169.68 L545.57 170.95 L545.93 170.42 L546.3 169.79 L546.65 170.81 L547 169.84 L547.35 171.62 L547.7 171.41 L548.05 171.41 L548.4 172.12 L548.75 172.91 L549.1 172.04 L549.45 171.99 L549.8 174.09 L550.15 173.11 L550.5 174.25 L550.85 173.23 L551.2 174.12 L551.55 173.78 L551.9 174.8 L552.25 174.52 L552.6 174.55 L552.95 176.13 L553.3 175.68 L553.65 174.53 L554 175.86 L554.36 175.55 L554.73 175.47 L555.09 175.94 L555.45 176.09 L555.81 176.49 L556.17 176.09 L556.54 175.55 L556.9 176.43 L557.26 177.37 L557.62 176.13 L557.99 177.4 L558.35 177.4 L558.71 176.95 L559.07 177.5 L559.44 176.96 L559.8 177.26 L560.17 176.86 L560.54 177.71 L560.91 178.21 L561.29 176.95 L561.66 178.04 L562.03 176.02 L562.4 176.72 L562.77 176.61 L563.14 178.21 L563.51 176.79 L563.89 177.57 L564.26 175.85 L564.63 177.1 L565 177.34 L565.36 177.03 L565.72 175.49 L566.08 177.27 L566.44 177.71 L566.8 178.07 L567.16 177.57 L567.52 176.38 L567.88 177.32 L568.24 178.04 L568.6 177.07 L568.96 177.95 L569.32 177.39 L569.68 177.78 L570.04 178.24 L570.4 177.42 L570.76 179.61 L571.12 178.04 L571.48 178.21 L571.84 177.62 L572.2 178.16 L572.56 178.02 L572.92 177.36 L573.28 177.37 L573.64 178.52 L574 178.35 L574.35 176.73 L574.7 176.92 L575.05 177.92 L575.4 177.96 L575.75 178.26 L576.1 177.06 L576.45 178.05 L576.8 177.42 L577.15 177.2 L577.5 177.32 L577.85 177.89 L578.2 177.53 L578.55 177.63 L578.9 176.59 L579.25 176.73 L579.6 176.1 L579.95 176.37 L580.3 176.36 L580.65 176.22 L581 176.83 L581.35 176.56 L581.7 176.66 L582.05 176.18 L582.4 176.64 L582.75 175.97 L583.1 176.38 L583.45 176 L583.8 176.04 L584.15 175.46 L584.5 174.66 L584.86 174.5 L585.21 176.51 L585.57 175.54 L585.93 175.54 L586.28 175.15 L586.64 174.94 L587 176.91 L587.35 174.48 L587.71 175.09 L588.07 175.06 L588.42 174.39 L588.78 174.27 L589.13 174.58 L589.49 174.77 L589.85 174.65 L590.2 175.4 L590.56 174.18 L590.92 175.1 L591.27 175.7 L591.63 175.33 L591.99 174.08 L592.34 172.96 L592.7 175.21 L593.06 174.97 L593.41 174.29 L593.77 175.38 L594.13 174.34 L594.48 174.61 L594.84 173.89 L595.2 174.68 L595.55 174.2 L595.91 174.12 L596.27 175.04 L596.62 174.49 L596.98 173.44 L597.33 174.72 L597.69 174.78 L598.05 173.74 L598.4 173.98 L598.76 174.21 L599.12 174 L599.47 174.2 L599.83 174.48 L600.19 173.77 L600.54 175.28 L600.9 173.57 L601.25 173.74 L601.61 175.31 L601.96 175.62 L602.31 174.28 L602.66 174.21 L603.02 173.74 L603.37 175.14 L603.72 174.62 L604.08 174.07 L604.43 174.89 L604.78 175.53 L605.14 175.19 L605.49 176.17 L605.84 175.6 L606.19 175.23 L606.55 175.02 L606.9 175.43 L607.25 175.9 L607.61 175.74 L607.96 175.93 L608.31 175.49 L608.66 175.88 L609.02 176.22 L609.37 175.45 L609.72 174.84 L610.08 176.72 L610.43 176.1 L610.78 175.55 L611.14 176.02 L611.49 175.79 L611.84 174.98 L612.19 175.96 L612.55 175.28 L612.9 176.32 L613.26 176.1 L613.62 176.82 L613.98 176.03 L614.34 176.3 L614.7 175.86 L615.06 175.78 L615.42 175.14 L615.78 176.54 L616.14 176.01 L616.5 175.53 L616.86 175.97 L617.22 175.57 L617.58 175.35 L617.94 175.9 L618.3 176.45 L618.66 175.53 L619.02 174.8 L619.38 175.26 L619.74 176.67 L620.1 175.07 L620.46 176.24 L620.82 175.35 L621.18 175.91 L621.54 175.37 L621.9 174.45 L622.26 175.26 L622.61 176.89 L622.97 175.65 L623.33 176.18 L623.69 175.75 L624.04 175.98 L624.4 176.36 L624.76 176.56 L625.11 177.72 L625.47 176.49 L625.83 176.5 L626.19 176.32 L626.54 176.04 L626.9 175.97 L627.26 177.44 L627.61 176.04 L627.97 178.11 L628.33 177.89 L628.69 177.3 L629.04 176.9 L629.4 177.72 L629.77 178.38 L630.15 179.7 L630.52 179.24 L630.9 180.12 L631.27 180.98 L631.65 181.51 L632.02 181.96 L632.4 181.97 L632.75 182.05 L633.1 182.66 L633.46 182.97 L633.81 183.73 L634.16 184.55 L634.51 184.23 L634.87 183.47 L635.22 184.4 L635.57 183.23 L635.92 183.02 L636.28 184.76 L636.63 182.76 L636.98 183.19 L637.33 183.31 L637.69 184.38 L638.04 183.18 L638.39 184.04 L638.74 183.36 L639.1 182.9 L639.45 183.81 L639.8 183.8 L640.16 183.07 L640.52 183.3 L640.88 183.41 L641.24 184.52 L641.6 184.28 L641.96 184.21 L642.32 184.42 L642.68 183.9 L643.04 184.53 L643.4 183.94 L643.76 183.56 L644.12 184 L644.48 184.61 L644.84 184.6 L645.2 185.24 L645.56 183.65 L645.92 184.59 L646.28 185.02 L646.64 184.27 L647 185.05 L647.36 184.72 L647.72 184.35 L648.08 185.76 L648.44 184.31 L648.8 185.8 L649.15 185.02 L649.5 184.77 L649.86 184.87 L650.21 185.03 L650.56 185.03 L650.91 185.77 L651.26 184.55 L651.61 186.48 L651.97 186.31 L652.32 186.7 L652.67 185.35 L653.02 184.61 L653.37 185.7 L653.73 186.04 L654.08 186.39 L654.43 185.96 L654.78 186.29 L655.13 186.49 L655.49 185.54 L655.84 187.62 L656.19 185.93 L656.54 186.83 L656.89 187.39 L657.24 186.34 L657.6 186.87 L657.95 187.92 L658.3 186.84" fill="none" stroke="#06067f" stroke-width="4.3" stroke-linejoin="round" stroke-linecap="round"/><path d="M382.6 29.11 L382.8 60.03 L383.2 80.02 L383.7 84.07 L384.2 87.98 L384.63 89.48 L385.07 91.1 L385.5 92.53 L386 93.45 L386.5 94.18" fill="none" stroke="#fdc00e" stroke-width="1.9" stroke-linejoin="round" stroke-linecap="round"/><path d="M386.3 94.31 L386.67 94.86 L387.04 94.8 L387.41 94.65 L387.78 94.38 L388.15 94.41 L388.52 94.9 L388.89 95.36 L389.26 94.88 L389.63 95.46 L390 94.89 L390.35 95.6 L390.71 94.84 L391.06 95.44 L391.42 95.05 L391.77 95.86 L392.13 95.94 L392.48 95.45 L392.84 95.65 L393.19 95.89 L393.55 95.59 L393.9 95.94 L394.3 95.64 L394.7 95.97 L395.1 95.88 L395.5 94.83 L395.86 94.75 L396.21 94.81 L396.57 94.37 L396.93 94.32 L397.29 94.63 L397.64 94.24 L398 93.97 L398.37 93.72 L398.74 94.49 L399.11 93.6 L399.48 93.84 L399.85 93.32 L400.22 93.45 L400.58 93.67 L400.95 93.42 L401.32 93.73 L401.69 93.49 L402.06 92.86 L402.43 92.44 L402.8 93.7 L403.17 93.05 L403.54 93.85 L403.91 93.25 L404.29 92.91 L404.66 93.42 L405.03 93.07 L405.4 93.16 L405.77 92.76 L406.14 93.37 L406.51 93.53 L406.89 92.86 L407.26 93.76 L407.63 92.8 L408 93.11 L408.35 92.21 L408.71 91.94 L409.06 93.4 L409.41 92.99 L409.76 92.73 L410.12 91.44 L410.47 92.07 L410.82 92 L411.18 91.71 L411.53 91.65 L411.88 91.02 L412.24 91.18 L412.59 90.64 L412.94 90.81 L413.29 90.95 L413.65 90.34 L414 90.39 L414.35 90.25 L414.7 90.34 L415.06 90.62 L415.41 90.26 L415.76 90.23 L416.11 89.42 L416.47 89.76 L416.82 90.15 L417.17 89.39 L417.52 89.47 L417.88 89.17 L418.23 90.01 L418.58 89.21 L418.93 89.01 L419.29 89.47 L419.64 89.57 L419.99 89.24 L420.34 89.35 L420.7 88.96 L421.05 88.74 L421.4 88.53 L421.76 88.63 L422.12 88.73 L422.48 89.24 L422.84 89.18 L423.2 89.39 L423.56 89.73 L423.92 89.59 L424.28 89.2 L424.64 89.56 L425 89.56 L425.36 89.35 L425.71 90.26 L426.07 89.85 L426.43 89.92 L426.79 90.11 L427.14 90.99 L427.5 90.63 L427.86 91.26 L428.21 90.93 L428.57 90.9 L428.93 91.41 L429.29 91.53 L429.64 91.44 L430 91.09 L430.36 91.39 L430.71 91.17 L431.07 91.61 L431.43 91.83 L431.79 92.45 L432.14 92.5 L432.5 92.27 L432.86 92.45 L433.21 92.24 L433.57 93.32 L433.93 92.9 L434.29 93.42 L434.64 92.58 L435 92.67 L435.36 92.99 L435.71 92.72 L436.07 92.84 L436.43 92.39 L436.79 93.23 L437.14 92.98 L437.5 93.32 L437.86 92.98 L438.21 92.43 L438.57 93.42 L438.93 93.75 L439.29 92.85 L439.64 93.04 L440 93.38 L440.35 93.47 L440.7 92.96 L441.05 94.41 L441.4 94.18 L441.75 93.59 L442.1 93.18 L442.45 94.12 L442.8 94.84 L443.15 94.44 L443.5 94.64 L443.85 93.87 L444.2 94.41 L444.55 93.78 L444.9 95.24 L445.25 94.75 L445.6 93.74 L445.95 93.91 L446.3 94.91 L446.65 94.84 L447 94.73 L447.35 95.17 L447.7 95.8 L448.05 95.21 L448.4 94.41 L448.75 95.13 L449.1 94.74 L449.45 95.01 L449.8 95.53 L450.15 95.37 L450.51 95.04 L450.86 95.5 L451.21 95.21 L451.57 95.79 L451.92 95.52 L452.27 95.8 L452.63 95.58 L452.98 96.02 L453.34 95.7 L453.69 95.78 L454.04 95.6 L454.4 95.92 L454.75 95.19 L455.1 97 L455.46 95.7 L455.81 96.04 L456.16 95.85 L456.52 95.88 L456.87 96.27 L457.23 95.94 L457.58 96.01 L457.93 95.67 L458.29 95.88 L458.64 95.82 L458.99 97.04 L459.35 95.83 L459.7 95.97 L460.05 96.5 L460.4 97.02 L460.75 95.8 L461.1 95.89 L461.45 96.59 L461.8 96.7 L462.15 96.03 L462.5 95.9 L462.85 96.27 L463.2 96.98 L463.55 96.69 L463.9 97.03 L464.25 96.72 L464.6 96.78 L464.95 97.07 L465.3 96.8 L465.65 96.97 L466 96.54 L466.35 96.7 L466.7 97.15 L467.05 96.9 L467.4 96.72 L467.75 97.31 L468.1 97.3 L468.45 97.1 L468.8 96.83 L469.15 97.52 L469.5 98.19 L469.87 96.82 L470.23 96.48 L470.6 96.74 L470.97 96.63 L471.33 96.45 L471.7 96.44 L472.07 97.2 L472.43 97.16 L472.8 97.36 L473.17 97.02 L473.53 96.49 L473.9 97.06 L474.27 96.34 L474.63 96.4 L475 96.02 L475.4 96.76 L475.8 96.46 L476.2 95.65 L476.6 95.5 L477 95.42 L477.4 95.27" fill="none" stroke="#fdc00e" stroke-width="3.0" stroke-linejoin="round" stroke-linecap="round"/><path d="M477.4 95.36 L477.75 94.4 L478.1 93.65 L478.45 92.46 L478.8 91.88 L479.15 90.77 L479.5 90.68 L479.85 89.79 L480.2 88.84 L480.4 130.22 L480.8 127.95 L481.2 125.28 L481.6 122.33 L482 120.15 L482.37 120.47 L482.74 121.53 L483.11 122.2 L483.48 123.19 L483.85 124.02 L484.22 124.51 L484.59 125.39 L484.96 126.25 L485.33 126.91 L485.7 127.66 L486.1 138.36 L486.5 149.91 L487 165.15 L487.5 180.04 L487.9 178.03 L488.3 176.61 L488.7 175.05 L489.13 171.46 L489.57 168.46 L490 164.83 L490.43 164.8 L490.85 164.72 L491.27 165.06 L491.7 164.43 L492.1 182.38 L492.5 200.64 L492.88 200.27 L493.25 200.28 L493.62 199.67 L494 200.05 L494.37 199.66 L494.73 199.07 L495.1 199.26 L495.47 198.61 L495.83 198.29 L496.2 197.73 L496.57 197.33 L496.93 197.21 L497.3 196.69 L497.67 196.76 L498.03 196.5 L498.4 195.87 L498.77 195.96 L499.14 196.49 L499.51 196.64 L499.89 197.17 L500.26 197.46 L500.63 197.62 L501 198.01 L501.4 198.4 L501.8 198.73 L502.2 198.49 L502.6 198.94 L503 198.94 L503.36 199.81 L503.73 201.3 L504.09 202.15 L504.45 203.12 L504.81 204.19 L505.17 205.11 L505.54 205.96 L505.9 207.55 L506.5 190.17 L506.93 183.38 L507.37 176.85 L507.8 170.25" fill="none" stroke="#fdc00e" stroke-width="1.7" stroke-linejoin="round" stroke-linecap="round"/><path d="M507.8 169.8 L508.2 170.2 L508.6 169.17 L509 169.73 L509.4 168.71 L509.8 170.73 L510.2 169.13 L510.6 170.64 L511 171.36 L511.4 170.88 L511.8 172.16 L512.2 171.49 L512.6 171.41 L513 171.97 L513.5 169.83 L514 169.98 L514.4 169.3 L514.8 169.4 L515.2 167.22 L515.6 168.39 L516 167.31 L516.37 168.28 L516.74 169.53 L517.11 168.91 L517.49 168.79 L517.86 170.13 L518.23 170.28 L518.6 171.24 L519.07 167.18 L519.53 168.14 L520 166.61 L520.4 165.82 L520.8 166.26 L521.2 164.78 L521.6 163.47 L522 164.2 L522.38 165.24 L522.75 167.55 L523.12 165.85 L523.5 165.97 L523.88 165.53 L524.25 167.17 L524.62 167.51 L525 168.09 L525.36 165.85 L525.71 165.55 L526.07 163.38 L526.43 164.56 L526.79 162.2 L527.14 160.32 L527.5 162.75 L528 163.29 L528.5 164.26 L529 161.71 L529.5 157.98 L529.88 161.3 L530.25 161.02 L530.62 165.06 L531 165.16 L531.38 164.15 L531.75 167.2 L532.12 168.89 L532.5 167.75 L532.88 167.63 L533.26 165.31 L533.64 163.71 L534.02 160.81 L534.4 162.82 L534.8 161.69 L535.2 162.69 L535.6 161.7 L536 162.19 L536.4 164.52 L536.8 163.84 L537.2 164.43 L537.6 164.29 L538 166.15 L538.38 167.25 L538.77 166.81 L539.15 167.66 L539.53 167.4 L539.92 170.24 L540.3 169.14 L540.69 169.72 L541.07 171.47 L541.46 170.03 L541.84 169.09 L542.23 169.81 L542.61 170.48 L543 172.49 L543.4 170.76 L543.8 169.98 L544.2 170.48 L544.6 170.48 L545 168.32 L545.4 169.76 L545.8 168.84 L546.2 168.05 L546.6 169.6 L547 175.74 L547.5 172.96 L548 167.74 L548.4 167.55 L548.8 163.24 L549.2 159.91 L549.56 161.52 L549.92 161.51 L550.28 162.21 L550.64 161.55 L551 163.09 L551.4 160.5 L551.8 160.09 L552.2 157.91 L552.6 157.29 L553 157.15 L553.37 157.05 L553.73 157.86 L554.1 158.7 L554.48 159.91 L554.86 161.17 L555.24 162 L555.62 163.04 L556 163.15 L556.5 161.01 L557 158.62 L557.5 163.68 L558 167.3 L558.4 164.82 L558.8 166.19 L559.2 161.6 L559.6 161.89 L560 160.46 L560.5 162.78 L561 168.2 L561.5 169.8 L562 172.92 L562.5 171.19 L563 165.09 L563.5 166.65 L564 169.12 L564.5 173.43 L565 178.02 L565.5 176.77 L566 173.67 L566.5 177.78 L567 181.9 L567.36 179.8 L567.73 180.74 L568.09 181.89 L568.45 182.77 L568.81 181.59 L569.17 181.78 L569.54 182.17 L569.9 184.43 L570.25 185.01 L570.6 183.12 L570.95 183.89 L571.3 185.41 L571.65 185.94 L572 188.33 L572.5 191.67 L573 196.67 L573.5 198.67 L574 201.09" fill="none" stroke="#fdc00e" stroke-width="2.0" stroke-linejoin="round" stroke-linecap="round"/><path d="M574 201.47 L574.38 200.75 L574.75 200.67 L575.12 201.38 L575.5 201.87 L575.88 200.96 L576.25 202.1 L576.62 202.22 L577 201.79 L577.38 202.18 L577.75 202.13 L578.12 202.4 L578.5 202.82 L578.85 202.01 L579.2 202.61 L579.55 202.39 L579.9 202.26 L580.25 200.94 L580.6 200.83 L580.95 201.72 L581.3 201.05 L581.65 200.86 L582 200.68 L582.36 201.5 L582.71 202.99 L583.07 203.87 L583.43 204.95 L583.79 206.47 L584.14 206.85 L584.5 208.85 L584.88 208.24 L585.25 210.91 L585.62 210.09 L586 211.63 L586.4 210.88 L586.8 209.63 L587.2 209.05 L587.6 207.83 L588 206.27 L588.4 207.36 L588.8 207.92 L589.2 207.47 L589.6 207.23 L590 207.91 L590.4 208.52 L590.8 207.91 L591.2 207.64 L591.6 206.82 L592 206.2 L592.38 205.08 L592.75 206.7 L593.12 205.71 L593.5 205.94 L593.88 205.35 L594.25 205.33 L594.62 205.32 L595 205.83 L595.37 205.73 L595.73 205.28 L596.1 205.75 L596.47 204.7 L596.83 204.99 L597.2 204.51 L597.57 205.14 L597.93 204.54 L598.3 204.84 L598.67 205.06 L599.03 203.43 L599.4 205.08" fill="none" stroke="#fdc00e" stroke-width="3.0" stroke-linejoin="round" stroke-linecap="round"/><path d="M599 204.17 L599.35 203.79 L599.7 202.87 L600.05 203.75 L600.4 202.61 L600.75 203.92 L601.1 203.76 L601.45 204.85 L601.8 203.62 L602.15 204.38 L602.5 204.41 L602.85 204.9 L603.2 203.57 L603.55 204.12 L603.9 202.81 L604.25 203.02 L604.6 203.47 L604.95 203.58 L605.3 202.89 L605.65 203.32 L606 203.92 L606.35 203.25 L606.7 203.39 L607.05 202.96 L607.4 204.21 L607.75 204.41 L608.1 203.5 L608.45 203.3 L608.8 204.28 L609.15 203.59 L609.5 202.92 L609.85 202.51 L610.2 202.92 L610.55 204.46 L610.9 202.87 L611.25 204.81 L611.6 203.16 L611.95 203.01 L612.3 203.86 L612.65 202.95 L613 203.28 L613.35 202.45 L613.7 202.32 L614.05 202.58 L614.4 203.1 L614.75 202.57 L615.1 201.82 L615.45 203.17 L615.8 202.78 L616.15 202.7 L616.5 202.49 L616.85 201.54 L617.2 203.68 L617.55 202.49 L617.9 203.04 L618.25 203.5 L618.6 203.33 L618.95 202.78 L619.3 202.65 L619.65 202.79 L620 203.11 L620.35 202.9 L620.7 202.3 L621.05 202.78 L621.4 202.71 L621.75 202.87 L622.11 202.57 L622.46 203.2 L622.81 202.52 L623.16 202.88 L623.51 202.38 L623.86 202 L624.21 201.77 L624.56 202.19 L624.91 202.56 L625.26 202.95 L625.61 202.16 L625.96 201.89 L626.32 201.87 L626.67 202.86 L627.02 202.17 L627.37 201.8 L627.72 202.48 L628.07 201.29 L628.42 202.08 L628.77 201.96 L629.12 201.89 L629.47 201.29 L629.82 202.47 L630.18 202.84 L630.53 201.12 L630.88 201.91 L631.23 202.18 L631.58 203.06 L631.93 201.53 L632.28 201.2 L632.63 201.71 L632.98 202.83 L633.33 201.71 L633.68 201.79 L634.04 202.62 L634.39 200.39 L634.74 200.35 L635.09 202.06 L635.44 201.96 L635.79 200.71 L636.14 201.76 L636.49 201.47 L636.84 201.54 L637.19 200.94 L637.54 201.12 L637.89 200.85 L638.25 201.35 L638.6 201.17 L638.95 202.22 L639.3 201.6 L639.65 200.34 L640 201.43 L640.35 201.98 L640.7 201.3 L641.06 201.73 L641.41 201.07 L641.76 201.46 L642.11 200.51 L642.46 201.46 L642.82 200.21 L643.17 201.69 L643.52 200.08 L643.87 199.71 L644.22 201.18 L644.58 200.75 L644.93 200.89 L645.28 201.04 L645.63 200.75 L645.98 200.24 L646.33 200.83 L646.69 200.88 L647.04 200.94 L647.39 201.75 L647.74 200.19 L648.09 200.62 L648.45 200.87 L648.8 200.27 L649.15 199.82 L649.5 200.15 L649.85 201.05 L650.21 200.27 L650.56 200.74 L650.91 199.95 L651.26 200.59 L651.61 199.93 L651.97 199.81 L652.32 200.32 L652.67 200.26 L653.02 201.04 L653.37 199.26 L653.72 200.44 L654.08 201.03 L654.43 200.86 L654.78 199.85 L655.13 199.66 L655.48 199.74 L655.84 200.16 L656.19 200.07 L656.54 200.13 L656.89 200.25 L657.24 199.28 L657.6 199.22 L657.95 199.13 L658.3 199.04" fill="none" stroke="#fdc00e" stroke-width="5.4" stroke-linejoin="round" stroke-linecap="round"/><path d="M382.3 73.77 L382.6 79.73 L383 87.48 L383.5 90.98 L384 91.98 L384.5 94.7 L384.95 97.53 L385.4 100.73 L385.85 100.52 L386.3 104.08 L387 110.22 L387.5 108.88 L388 108.76 L388.4 108.89 L388.8 110.32 L389.2 113.71 L389.6 114.74 L390 116.21 L390.5 115.08 L391 114.45 L391.4 115.21 L391.8 117.91 L392.2 119.16 L392.6 121.79 L393 123.18 L393.5 121.29 L394 118.77 L394.4 120.68 L394.8 121.6 L395.2 126.49 L395.6 125.15 L396 127.5 L396.5 132.76 L397 134.67 L397.5 136.18 L398 137.59 L398.5 133.53 L399 129.77 L399.5 131.48 L400 134.18 L400.4 132.65 L400.8 131 L401.2 130 L401.6 127.42 L402 128.62 L402.4 128.97 L402.8 128.16 L403.2 129.96 L403.6 130.19 L404 130.49 L404.5 128.31 L405 126.85 L405.4 127.9 L405.8 130.49 L406.2 131.71 L406.6 132.97 L407 133.8 L407.4 133 L407.8 134.63 L408.2 130.48 L408.6 132.66 L409 131.29 L409.5 132.04 L410 132.51 L410.4 133.58 L410.8 133.5 L411.2 134.12 L411.6 136.07 L412 135.49 L412.5 136.22 L413 134.97 L413.4 132.11 L413.8 134.99 L414.2 137.82 L414.6 138.96 L415 140.07 L415.5 138.35 L416 136.63 L416.48 138.38 L416.96 140.83 L417.44 140.92 L417.92 143.29 L418.4 142.76 L418.8 143.01 L419.2 141.01 L419.6 142.24 L420 142.01 L420.41 140.19 L420.83 138.34 L421.24 139.11 L421.66 138.97 L422.07 138.86 L422.49 139.37 L422.9 139 L423.45 137.31 L424 142.15 L424.43 141.13 L424.86 141.65 L425.29 143.9 L425.71 143.04 L426.14 142.67 L426.57 143.29 L427 145.03 L427.4 145.35 L427.8 145.44 L428.2 143.64 L428.6 142.99 L429 144.34 L429.43 143.95 L429.86 146.91 L430.29 147.25 L430.71 148.61 L431.14 149.57 L431.57 151.37 L432 152.1 L432.43 151.85 L432.86 152.23 L433.29 151.73 L433.71 152.45 L434.14 152.19 L434.57 151.84 L435 151.82 L435.43 152.51 L435.86 154.83 L436.29 154.12 L436.71 154.36 L437.14 155.31 L437.57 156.8 L438 156.82 L438.43 156.72 L438.86 156.49 L439.29 156.68 L439.71 156.72 L440.14 156.62 L440.57 154.84 L441 155.16 L441.41 154.86 L441.83 158.36 L442.24 159.46 L442.66 160.48 L443.07 160.52 L443.49 162.12 L443.9 162.16 L444.3 162.3 L444.71 161.54 L445.11 162.27 L445.52 162.61 L445.92 163.81 L446.33 164.48 L446.73 163.32 L447.14 164.05 L447.54 164.19 L447.95 163.77 L448.35 163.42 L448.75 164.2 L449.16 164.03 L449.56 164.87 L449.97 165.18 L450.37 165.36 L450.78 165.57 L451.18 166.12 L451.59 165.6 L451.99 166.72 L452.4 165.66 L452.8 166.72 L453.22 167.2 L453.63 166.99 L454.05 166.97 L454.47 168.3 L454.88 168.07 L455.3 169.01 L455.72 169.33 L456.13 169.35 L456.55 169.69 L456.97 170.39 L457.38 170.49 L457.8 170.36 L458.22 171.08 L458.63 171.54 L459.05 171.76 L459.47 172.08 L459.88 172.31 L460.3 172.66 L460.71 172.62 L461.12 172.68 L461.53 173.66 L461.94 173.34 L462.35 173.8 L462.75 173.5 L463.16 174.2 L463.57 174.12 L463.98 175.46 L464.39 174.48 L464.8 174.7 L465.21 175.68 L465.62 176.15 L466.03 175.59 L466.44 176.7 L466.85 177.3 L467.25 177.08 L467.66 178.06 L468.07 178.11 L468.48 178.38 L468.89 178.98 L469.3 179.35 L469.72 179.17 L470.13 180.33 L470.55 179.62 L470.96 179.62 L471.38 180.18 L471.8 180 L472.21 180.5 L472.63 180.12 L473.04 180.39 L473.46 180.4 L473.88 180.51 L474.29 180.49 L474.71 180.6 L475.12 181.22 L475.54 180.61 L475.96 180.74 L476.37 180.89 L476.79 181.24 L477.2 181.28 L477.62 181.53 L478.04 180.95 L478.45 181.5 L478.87 181.46 L479.28 181.52 L479.7 181.74 L480.11 181.24 L480.52 182.02 L480.93 182.11 L481.33 181.77 L481.74 182.29 L482.15 182.89 L482.56 182.45 L482.97 182.86 L483.38 182.75 L483.78 182.7 L484.19 182.8 L484.6 183.08 L485.01 183.7 L485.42 183.68 L485.82 183.36 L486.23 183.98 L486.64 183.78 L487.05 183.74 L487.46 184.19 L487.87 183.93 L488.27 183.86 L488.68 184.82 L489.09 184.04 L489.5 184.85 L489.9 184.27 L490.3 184.71 L490.71 184.68 L491.11 184.63 L491.51 184.14 L491.91 184.75 L492.31 184.79 L492.72 184.56 L493.12 184.81 L493.52 185.14 L493.92 184.66 L494.32 184.95 L494.73 184.56 L495.13 185.02 L495.53 185.11 L495.93 185.66 L496.33 185.22 L496.74 185.1 L497.14 185.4 L497.54 184.72 L497.94 185.33 L498.34 184.88 L498.75 184.88 L499.15 185.38 L499.55 185.15 L499.95 185.48 L500.35 184.7 L500.75 185.21 L501.16 185 L501.56 185.09 L501.96 184.64 L502.36 185.46 L502.76 185.27 L503.17 184.95 L503.57 184.86 L503.97 185.01 L504.37 185.67 L504.77 185.26 L505.18 185.21 L505.58 185.46 L505.98 185.34 L506.38 185.42 L506.78 185.58 L507.19 185.48 L507.59 185.65 L507.99 185.08 L508.39 185.45 L508.79 185.35 L509.2 185.49 L509.6 185.47 L510 185.32 L510.4 185.41 L510.8 185.78 L511.2 185.37 L511.6 185.19 L512 185.71 L512.4 185.83 L512.8 185.49 L513.2 185.61 L513.6 185.35 L514 185.54 L514.4 185.92 L514.8 185.84 L515.2 185.67 L515.6 185.56 L516 185.19 L516.4 185.75 L516.8 185.8 L517.2 185.97 L517.6 186.25 L518 185.8 L518.4 185.98 L518.8 185.41 L519.2 186.07 L519.6 185.98 L520 186.13 L520.4 185.95 L520.8 185.9 L521.2 186.19 L521.6 185.61 L522 185.98 L522.4 186.11 L522.8 185.6 L523.2 185.51 L523.6 185.96 L524 185.89 L524.4 186.03 L524.8 186.05 L525.2 185.67 L525.6 185.99 L526 186.21 L526.4 185.81 L526.8 185.84 L527.2 185.62 L527.6 186.17 L528 186.49 L528.4 185.59 L528.8 186.18 L529.2 186.23 L529.6 185.84 L530 185.9 L530.4 185.71 L530.8 185.77 L531.2 186.02 L531.6 186.14 L532 185.99 L532.4 186.18 L532.8 185.99 L533.2 185.6 L533.6 186.31 L534 186.23 L534.4 185.7 L534.8 186.37 L535.2 186 L535.6 185.9 L536 186.38 L536.4 185.16 L536.8 185.4 L537.2 186.02 L537.6 185.75 L538 185.55 L538.4 186.21 L538.8 185.92 L539.2 185.43 L539.6 185.59 L540 185.99 L540.4 186.23 L540.8 185.19 L541.2 185.8 L541.6 185.61 L542 185.23 L542.4 185.65 L542.8 185.25 L543.2 185.53 L543.6 186.11 L544 185.8 L544.4 185.86 L544.8 185.8 L545.2 185.72 L545.6 185.88 L546 185.29 L546.4 185.5 L546.8 185.82 L547.2 185.38 L547.6 185.45 L548 185.89 L548.4 185.96 L548.8 185.38 L549.2 185.31 L549.6 185.68 L550 185.58 L550.4 185.33 L550.8 185.68 L551.2 185.68 L551.6 185.56 L552 186.33 L552.4 185.91 L552.8 185.77 L553.2 185.84 L553.6 186.36 L554 185.87 L554.4 185.38 L554.8 185.67 L555.2 185.61 L555.6 185.44 L556 185.67 L556.4 185.67 L556.8 185.6 L557.2 185.49 L557.6 185.85 L558 185.2 L558.4 185.86 L558.8 185.65 L559.2 185.72 L559.6 185.02 L560 186.11 L560.4 185.2 L560.8 185.44 L561.2 185.85 L561.6 185.52 L562 185.58 L562.4 185.1 L562.8 185.59 L563.2 185.77 L563.6 185.9 L564 185.64 L564.4 185.79 L564.8 185.85 L565.2 185.56 L565.6 185.54 L566 186.28 L566.4 185.53 L566.8 186.09 L567.2 185.79 L567.6 186.17 L568 185.61 L568.4 185.93 L568.8 185.88 L569.2 185.74 L569.6 185.89 L570 185.61 L570.4 185.8 L570.81 185.73 L571.21 186.05 L571.61 185.84 L572.01 185.5 L572.42 185.79 L572.82 185.87 L573.22 185.67 L573.62 186.28 L574.03 186.04 L574.43 186.17 L574.83 185.76 L575.24 185.87 L575.64 186.25 L576.04 185.62 L576.44 186.11 L576.85 186.05 L577.25 185.9 L577.65 186.07 L578.05 185.77 L578.46 186.13 L578.86 185.76 L579.26 185.76 L579.67 186.48 L580.07 185.93 L580.47 185.57 L580.87 186.4 L581.28 185.95 L581.68 185.24 L582.08 186.17 L582.48 186.44 L582.89 186.3 L583.29 186.67 L583.69 186.2 L584.1 186.4 L584.5 185.99 L584.9 186.31 L585.3 186.68 L585.71 186.43 L586.11 186.35 L586.51 185.8 L586.92 186.23 L587.32 186 L587.72 186.56 L588.12 186.17 L588.53 186.47 L588.93 186.13 L589.33 186.9 L589.73 186.11 L590.14 186.47 L590.54 187.13 L590.94 186.51 L591.35 186.24 L591.75 186.64 L592.15 186.75 L592.55 186.73 L592.96 186 L593.36 186.58 L593.76 185.98 L594.16 187.05 L594.57 186.58 L594.97 186.46 L595.37 186.77 L595.78 186.73 L596.18 186.3 L596.58 187.05 L596.98 186.58 L597.39 186.19 L597.79 187.03 L598.19 187.08 L598.59 187.02 L599 186.84 L599.4 186.48 L599.8 186.97 L600.21 187.22 L600.61 186.96 L601.02 187.18 L601.42 186.57 L601.82 187.05 L602.23 187.04 L602.63 186.42 L603.04 186.39 L603.44 186.64 L603.84 186.86 L604.25 186.97 L604.65 186.81 L605.05 186.86 L605.46 186.86 L605.86 186.92 L606.27 187.07 L606.67 187.05 L607.07 186.92 L607.48 187.02 L607.88 186.84 L608.29 187.18 L608.69 186.85 L609.09 187.42 L609.5 187 L609.9 187.09 L610.31 186.83 L610.71 186.95 L611.11 187.1 L611.52 187.07 L611.92 186.92 L612.33 186.79 L612.73 187.11 L613.13 187.15 L613.54 187.27 L613.94 187.46 L614.35 187.07 L614.75 186.64 L615.15 187.14 L615.56 186.71 L615.96 186.86 L616.36 187.48 L616.77 187.37 L617.17 187.06 L617.58 187.08 L617.98 187.23 L618.38 186.81 L618.79 187.4 L619.19 187.2 L619.6 187.78 L620 187.04 L620.4 187.57 L620.8 187.14 L621.2 187.58 L621.6 187.06 L622 187.5 L622.4 187.2 L622.8 187.1 L623.2 187.28 L623.6 187.44 L624 187.42 L624.4 187.72 L624.8 187.53 L625.2 186.64 L625.6 187.21 L626 186.8 L626.4 187.22 L626.8 187.47 L627.2 186.97 L627.6 187.01 L628 187.35 L628.4 187.24 L628.8 187.72 L629.2 187.4 L629.6 187.45 L630 187.76 L630.4 187.19 L630.8 187.31 L631.2 187.06 L631.6 187.38 L632 187.58 L632.4 187.67 L632.8 187.31 L633.2 187.13 L633.6 187.12 L634 186.96 L634.4 187.35 L634.8 187.66 L635.2 186.71 L635.6 186.76 L636 187.67 L636.4 186.9 L636.8 187.4 L637.2 186.99 L637.6 187.51 L638 187.51 L638.4 187.36 L638.8 187.53 L639.2 187.33 L639.6 187.46 L640 187.78 L640.41 187.59 L640.81 187.14 L641.22 187.09 L641.63 187.23 L642.03 187.22 L642.44 187.29 L642.85 187.12 L643.25 187.43 L643.66 187.27 L644.07 187.34 L644.47 187.25 L644.88 187.39 L645.29 186.93 L645.69 187.62 L646.1 187.3 L646.51 187.32 L646.91 187.36 L647.32 187.47 L647.73 187.38 L648.13 187.24 L648.54 187.13 L648.95 186.76 L649.35 187.22 L649.76 187.08 L650.17 187.07 L650.57 187.75 L650.98 186.67 L651.39 187.15 L651.79 187.43 L652.2 187.36 L652.61 187.42 L653.01 186.79 L653.42 186.86 L653.83 187.25 L654.23 187.01 L654.64 187.51 L655.05 187.13 L655.45 187.12 L655.86 187.17 L656.27 186.98 L656.67 187.08 L657.08 186.87 L657.49 187.02 L657.89 186.91 L658.3 187.08" fill="none" stroke="#0a950a" stroke-width="1.6" stroke-linejoin="round"/><path d="M382.2 18.1 L382.7 33.08 L383.3 35.24 L383.9 36.74 L384.5 37.96 L385.1 39.76 L385.7 42.24 L386.3 45.9 L386.9 47.56 L387.45 53.54 L388 57.78 L388.6 61.49 L389.2 64.61 L389.8 67.91 L390.33 69.64 L390.87 70.94 L391.4 71.94 L391.93 73.09 L392.47 75.31 L393 76.45 L393.5 77 L394 77.8 L394.5 78.91 L395 79.78 L395.5 81.05 L396 81.34 L396.5 82.57 L397 83.26 L397.5 84.82 L398 85.82 L398.5 86.1 L399 87.14 L399.5 88.25 L400 88.59 L400.5 89.25 L401 90.44 L401.5 90.88 L402 91.26 L402.5 92.37 L403 92.6 L403.56 92.86 L404.11 94.37 L404.67 95.12 L405.23 96.58 L405.79 96.88 L406.34 97.69 L406.9 98.76 L407.45 99.4 L408 99.6 L408.5 100.69 L409 101.18 L409.5 102.32 L410 103.25 L410.5 102.82 L411 103.49 L411.5 104.15 L412 104.83 L412.52 105.16 L413.04 105.73 L413.57 106.39 L414.09 106.02 L414.61 106.29 L415.13 106.54 L415.66 107.77 L416.18 108.18 L416.7 107.67 L417.22 107.98 L417.74 108.86 L418.27 109.49 L418.79 109.81 L419.31 109.91 L419.83 110.4 L420.36 110.64 L420.88 110.72 L421.4 111.8 L421.9 111.73 L422.4 111.89 L422.9 112.59 L423.4 112.77 L423.9 113.73 L424.4 114.56 L424.9 114.35 L425.4 115.57 L425.9 116.36 L426.4 116.34 L426.9 116.38 L427.4 116.97 L427.9 117.28 L428.41 117.15 L428.91 117.31 L429.42 117.76 L429.92 117.93 L430.42 118.32 L430.93 117.93 L431.43 119.01 L431.94 118.92 L432.44 119.02 L432.94 118.71 L433.45 119.57 L433.95 119.1 L434.46 119.9 L434.96 119.83 L435.46 119.39 L435.97 119.68 L436.47 120.53 L436.98 120.42 L437.48 120.22 L437.98 120.48 L438.49 120.63 L438.99 120.49 L439.5 120.82 L440 120.83 L440.51 121.09 L441.02 121.56 L441.53 121.32 L442.04 122.02 L442.55 122.03 L443.06 122.42 L443.57 122.65 L444.08 122.95 L444.59 122.96 L445.1 123.18 L445.61 123.1 L446.12 123.52 L446.63 123.27 L447.14 123.66 L447.65 124.16 L448.15 124.11 L448.66 124.45 L449.17 124.19 L449.68 125.12 L450.19 124.73 L450.7 125.21 L451.21 125.28 L451.72 125.76 L452.23 125.56 L452.74 125.57 L453.25 125.49 L453.76 126.16 L454.27 126.09 L454.78 126.8 L455.29 127.27 L455.8 126.36 L456.3 126.76 L456.8 127.37 L457.3 127.77 L457.8 127.61 L458.3 127.74 L458.8 127.91 L459.3 128.06 L459.8 128.5 L460.3 128.31 L460.8 127.88 L461.3 128.23 L461.8 128.56 L462.3 128.37 L462.8 128.66 L463.3 128.7 L463.8 128.77 L464.3 129.32 L464.8 129.11 L465.31 129.03 L465.83 129.27 L466.34 129.63 L466.86 130.39 L467.37 129.96 L467.88 130.46 L468.4 130.29 L468.91 129.63 L469.42 130.52 L469.94 130.28 L470.45 130.26 L470.97 130.48 L471.48 131.47 L471.99 130.59 L472.51 131.01 L473.02 131.67 L473.53 131.66 L474.05 131.07 L474.56 131.68 L475.08 131.69 L475.59 131.92 L476.1 132.34 L476.62 132.07 L477.13 132.28 L477.64 132.94 L478.16 132.08 L478.67 132.65 L479.19 133.04 L479.7 132.65 L480.21 132.94 L480.73 132.83 L481.25 133.37 L481.76 133.24 L482.27 133.77 L482.79 133.94 L483.31 133.74 L483.82 133.71 L484.33 134.01 L484.85 134.04 L485.37 133.76 L485.88 134.55 L486.39 134.4 L486.91 134.67 L487.43 134.12 L487.94 134.89 L488.45 135.36 L488.97 135.01 L489.49 134.49 L490 135.04 L490.5 135.06 L491 135.19 L491.5 135.11 L492 135.38 L492.5 135.14 L493 135.4 L493.5 135.17 L494 135.46 L494.5 135.78 L495 135.38 L495.5 135.78 L496 135.36 L496.5 135.56 L497 135.65 L497.5 136.15 L498 135.59 L498.5 136.24 L499 135.48 L499.5 135.93 L500 136.3 L500.51 136.32 L501.02 135.88 L501.53 135.89 L502.04 136.61 L502.55 136.04 L503.06 136.68 L503.57 136.42 L504.08 136.65 L504.59 137.44 L505.11 137.28 L505.62 137.15 L506.13 136.56 L506.64 137.15 L507.15 137.15 L507.66 137.18 L508.17 137.69 L508.68 136.85 L509.19 137.54 L509.7 137.56 L510.21 137.38 L510.72 138.21 L511.23 137.38 L511.74 137.85 L512.25 137.94 L512.76 137.33 L513.27 137.64 L513.78 137.86 L514.29 138.47 L514.81 138.6 L515.32 138.57 L515.83 138.54 L516.34 137.88 L516.85 138.7 L517.36 138.55 L517.87 139.14 L518.38 139.27 L518.89 139.62 L519.4 139.24 L519.9 139.31 L520.4 138.78 L520.91 139.16 L521.41 138.8 L521.91 139.48 L522.41 138.88 L522.92 139.21 L523.42 139.07 L523.92 139.21 L524.42 139.53 L524.93 139.25 L525.43 139.53 L525.93 139.19 L526.43 139.96 L526.94 139.38 L527.44 139.92 L527.94 140.3 L528.44 138.94 L528.95 139.42 L529.45 139.69 L529.95 140.15 L530.45 139.68 L530.96 139.98 L531.46 139.68 L531.96 140.11 L532.46 139.6 L532.97 140.26 L533.47 139.14 L533.97 139.51 L534.47 140.67 L534.98 140.21 L535.48 139.92 L535.98 140.9 L536.48 140.59 L536.99 140.65 L537.49 140.21 L537.99 140.57 L538.49 140.57 L539 139.94 L539.5 140.67 L540 140.47 L540.51 140.95 L541.02 141 L541.52 140.44 L542.03 140.49 L542.54 140.77 L543.05 140.95 L543.55 140.66 L544.06 140.79 L544.57 141.05 L545.08 141.04 L545.58 141.3 L546.09 141.06 L546.6 140.75 L547.11 140.52 L547.62 141.35 L548.12 141.03 L548.63 141.07 L549.14 141.12 L549.65 140.77 L550.15 141.17 L550.66 140.53 L551.17 141.24 L551.68 141.13 L552.18 142.01 L552.69 141.62 L553.2 141.45 L553.71 141.61 L554.22 141.82 L554.72 141.4 L555.23 141.6 L555.74 141.6 L556.25 142.51 L556.75 141.81 L557.26 141.22 L557.77 142.11 L558.28 142.7 L558.78 141.65 L559.29 143.05 L559.8 142 L560.3 142.32 L560.81 141.84 L561.31 141.92 L561.82 141.62 L562.32 141.67 L562.83 141.33 L563.33 142.34 L563.84 141.63 L564.34 142.09 L564.85 142.07 L565.36 141.76 L565.86 141.97 L566.37 141.92 L566.87 141.8 L567.38 141.96 L567.88 141.95 L568.38 141.62 L568.89 141.53 L569.39 141.66 L569.9 141.96 L570.4 142.34 L570.91 142.36 L571.41 142 L571.92 142.19 L572.42 141.93 L572.93 142.23 L573.43 141.92 L573.94 142 L574.44 141.79 L574.95 141.87 L575.46 142.45 L575.96 141.49 L576.47 141.85 L576.97 141.66 L577.48 142.14 L577.98 142.4 L578.49 141.74 L578.99 140.97 L579.5 142.01 L580 142.01 L580.5 141.31 L581 141.77 L581.5 141.84 L582 141.16 L582.5 142.1 L583 142.04 L583.5 142 L584 141.61 L584.5 141.73 L585 141.77 L585.5 142.13 L586 141.69 L586.5 142.47 L587 142.14 L587.5 141.36 L588 142.58 L588.5 142.12 L589 141.91 L589.5 142.13 L590 141.55 L590.5 142.19 L591 141.38 L591.5 141.84 L592 142.6 L592.5 142.58 L593 142.1 L593.5 141.92 L594 142.53 L594.5 142.23 L595 142.33 L595.5 142.47 L596 141.96 L596.5 142.56 L597 141.66 L597.5 142.8 L598 141.86 L598.5 142.17 L599 142.18 L599.5 142.63 L600 142.65 L600.5 142.52 L601 142.57 L601.5 142.54 L602 142.37 L602.5 141.79 L603 141.66 L603.5 141.66 L604 142.36 L604.5 142.3 L605 142.32 L605.5 142.43 L606 142.28 L606.5 142.03 L607 141.87 L607.5 141.74 L608 142.71 L608.5 142.61 L609 141.9 L609.5 142.23 L610 142.45 L610.5 142.81 L611 142.11 L611.5 142.35 L612 142.65 L612.5 141.74 L613 142.05 L613.5 142.26 L614 142.04 L614.5 142.93 L615 142.53 L615.5 142.32 L616 141.95 L616.5 142.52 L617 142.44 L617.5 142.07 L618 142.09 L618.5 141.77 L619 142.2 L619.5 142.49 L620 142.52 L620.5 142.4 L621 142.48 L621.5 142.05 L622 142.09 L622.5 142.62 L623 142.4 L623.5 142.01 L624 142.43 L624.5 142.54 L625 142.51 L625.5 142.32 L626 142.14 L626.5 142.43 L627 142.84 L627.5 142.37 L628 142.12 L628.5 142.44 L629 141.96 L629.5 142.42 L630 142.26 L630.5 142.67 L631 142.41 L631.5 142.71 L632 143.11 L632.5 142.33 L633 142.14 L633.5 142.55 L634 142.39 L634.5 142.47 L635 142.24 L635.5 142.61 L636 142.47 L636.5 141.78 L637 142.39 L637.5 142.57 L638 142.85 L638.5 142.3 L639 142.24 L639.5 142.86 L640 142.32 L640.51 142.55 L641.02 142.67 L641.52 142.75 L642.03 142.53 L642.54 142.19 L643.05 142.86 L643.56 142.41 L644.07 142.39 L644.58 143.18 L645.08 142.84 L645.59 142.24 L646.1 142.42 L646.61 142.5 L647.12 142.35 L647.62 141.99 L648.13 142.85 L648.64 142.84 L649.15 142.68 L649.66 142.49 L650.17 142.68 L650.67 142.82 L651.18 142.3 L651.69 142.53 L652.2 142.47 L652.71 142.86 L653.22 142.73 L653.72 142.25 L654.23 142.47 L654.74 143.22 L655.25 142.37 L655.76 142.72 L656.27 142.49 L656.77 143.08 L657.28 142.67 L657.79 142.56 L658.3 142.34" fill="none" stroke="#18c2c8" stroke-width="1.9" stroke-linejoin="round"/><path d="M382.6 30.93 L383 36.26 L383.9 48.21 L384.5 52.89 L385.1 59.09 L385.68 60.88 L386.25 62.98 L386.82 65.69 L387.4 67.81 L387.91 68.85 L388.43 69.87 L388.94 71.06 L389.46 71.96 L389.97 72.62 L390.49 74.34 L391 75.04 L391.6 76.68 L392.2 77.57 L392.8 78.7 L393.32 78.69 L393.85 79.16 L394.38 78.78 L394.9 78.7 L395.43 79.24 L395.95 78.41 L396.48 79.26 L397 79.57 L397.5 79.39 L398 79.93 L398.5 79.77 L399 79.6 L399.5 79.46 L400 79.94 L400.5 79.51 L401 79.71 L401.5 80.19 L402 80.27 L402.5 80.83 L403 80.26 L403.5 79.86 L404 80.77 L404.5 81.07 L405 80.75 L405.52 81.57 L406.03 81.92 L406.55 81.45 L407.06 81.79 L407.58 81.84 L408.09 82.68 L408.61 83.02 L409.12 83.27 L409.64 82.98 L410.15 83.41 L410.67 83.49 L411.18 83.72 L411.7 84.08 L412.22 84.33 L412.74 85.08 L413.26 85.59 L413.77 85.97 L414.29 86.09 L414.81 86.21 L415.33 86.73 L415.85 87.23 L416.37 87.28 L416.89 87.7 L417.41 87.91 L417.93 88.16 L418.44 88.66 L418.96 88.62 L419.48 89.61 L420 89.12 L420.5 90.13 L421 89.96 L421.5 91.24 L422 91.43 L422.5 91.3 L423 91.8 L423.5 91.98 L424 92.7 L424.5 93.24 L425 94.29 L425.5 93.39 L426 94.5 L426.5 94.25 L427 94.83 L427.5 95.32 L428 95.53 L428.5 95.8 L429 95.92 L429.5 96.29 L430 96.65 L430.5 97.12 L431 96.45 L431.5 96.9 L432 96.82 L432.5 97.05 L433 97.25 L433.5 97.99 L434 98.46 L434.5 98.37 L435 97.73 L435.5 98.27 L436 98.05 L436.5 98.69 L437 99.09 L437.5 99.03 L438 99.27 L438.5 99.1 L439 98.69 L439.5 98.84 L440 99.57 L440.52 99.87 L441.03 100.18 L441.55 99.78 L442.06 100 L442.58 100.15 L443.09 100.5 L443.61 100.24 L444.13 100.02 L444.64 100.79 L445.16 100.67 L445.67 100.76 L446.19 100.34 L446.71 100.83 L447.22 100.4 L447.74 100.4 L448.25 101.04 L448.77 101.08 L449.28 101.48 L449.8 101.84 L450.32 101.47 L450.84 102.12 L451.36 101.47 L451.88 101.97 L452.41 101.43 L452.93 101.94 L453.45 101.89 L453.97 102.01 L454.49 102.34 L455.01 101.66 L455.53 102.36 L456.05 102.16 L456.57 102.53 L457.09 102.7 L457.62 102.55 L458.14 102.63 L458.66 102.48 L459.18 103.08 L459.7 102.79 L460.21 103.19 L460.73 102.66 L461.25 103.57 L461.76 102.89 L462.27 103.61 L462.79 103.16 L463.31 103.52 L463.82 103.36 L464.33 103.66 L464.85 103.5 L465.37 103.94 L465.88 103.81 L466.39 103.86 L466.91 104.21 L467.43 103.54 L467.94 104.2 L468.45 103.87 L468.97 103.44 L469.49 104.1 L470 103.94 L470.5 104.54 L471 103.88 L471.5 104.07 L472 104.14 L472.5 103.5 L473 104.26 L473.5 103.81 L474 104.57 L474.5 104.66 L475 104.16 L475.5 103.7 L476 104.26 L476.5 104.27 L477 104.45 L477.5 104.16 L478 103.9 L478.5 104.24 L479 104.02 L479.5 104.86 L480 104.12 L480.5 104.15 L481 104.35 L481.5 104 L482 104.26 L482.5 104.41 L483 104.35 L483.5 104.47 L484 104.98 L484.5 104.78 L485 104.29 L485.5 104.62 L486 105.03 L486.5 104.65 L487 104.93 L487.5 104.94 L488 105.16 L488.5 104.99 L489 105.06 L489.5 104.89 L490 105.31 L490.5 104.96 L491 105.83 L491.5 105.34 L492 105.33 L492.5 105.69 L493 105.47 L493.5 105.66 L494 105.74 L494.5 105.66 L495 105.73 L495.5 105.93 L496 106.62 L496.5 106.21 L497 106.4 L497.5 106.52 L498 107 L498.5 107.52 L499 106.76 L499.5 107.34 L500 107.34 L500.52 107.51 L501.04 108.06 L501.56 107.81 L502.08 108.76 L502.6 108.87 L503.12 108.79 L503.64 109.89 L504.16 109.96 L504.68 110.36 L505.2 109.85 L505.71 110.33 L506.21 110.37 L506.72 110.84 L507.23 111.17 L507.74 110.29 L508.24 110.99 L508.75 111.06 L509.26 111.52 L509.76 111.32 L510.27 111.05 L510.78 111.5 L511.29 111.35 L511.79 111.55 L512.3 111.91 L512.81 111.87 L513.31 112.21 L513.82 111.78 L514.33 113.07 L514.84 112.86 L515.34 112.81 L515.85 112.3 L516.36 112.15 L516.86 112.66 L517.37 112.97 L517.88 113.84 L518.39 113.67 L518.89 113.22 L519.4 113.87 L519.9 113.95 L520.4 113.65 L520.9 114.09 L521.4 113.89 L521.9 113.66 L522.4 113.57 L522.9 113.96 L523.4 114.38 L523.9 113.73 L524.4 113.72 L524.9 114.45 L525.4 113.52 L525.9 114.99 L526.4 114.37 L526.9 114.8 L527.4 115.21 L527.9 114.27 L528.4 114.46 L528.9 115.54 L529.4 114.84 L529.9 114.96 L530.4 115.14 L530.9 115.47 L531.4 115.62 L531.9 115.32 L532.4 115.25 L532.9 115.42 L533.4 115.59 L533.9 115.97 L534.4 115.68 L534.9 116.27 L535.4 115.52 L535.9 116.02 L536.4 116.47 L536.9 116.4 L537.4 116.17 L537.9 115.87 L538.4 116 L538.9 116.24 L539.4 116.45 L539.9 116.35 L540.4 116.05 L540.92 116.38 L541.44 116.88 L541.96 117.09 L542.48 116.51 L543 116.94 L543.52 116.65 L544.04 117.1 L544.56 118.47 L545.08 117.51 L545.6 117.49 L546.12 117.53 L546.64 117.45 L547.16 117.36 L547.68 118.03 L548.2 118.07 L548.72 118.71 L549.24 117.87 L549.76 118.61 L550.28 119 L550.8 118.1 L551.3 119.13 L551.8 118.66 L552.3 119.55 L552.8 120.07 L553.3 119.84 L553.8 120.16 L554.3 120.09 L554.8 120.62 L555.3 121.1 L555.8 120.93 L556.3 121.17 L556.8 121.56 L557.3 121.92 L557.8 121.4 L558.3 122.15 L558.8 122.15 L559.3 122.74 L559.8 123.13 L560.3 123.14 L560.8 123.67 L561.3 123.2 L561.81 123.42 L562.32 123.28 L562.84 123.64 L563.35 123.69 L563.86 123.65 L564.37 123.38 L564.88 123.76 L565.39 123.7 L565.91 124.06 L566.42 123.83 L566.93 124.31 L567.44 124.07 L567.95 123.47 L568.46 124.02 L568.98 123.68 L569.49 124.46 L570 124.64 L570.5 124.2 L571 124.36 L571.5 123.79 L572 123.55 L572.5 124.08 L573 124.18 L573.5 123.81 L574 124.31 L574.5 124.39 L575 124.5 L575.5 124.79 L576 124.57 L576.5 124.22 L577 124.37 L577.5 124.53 L578 124.04 L578.5 124.78 L579 124.66 L579.5 124.32 L580 124.2 L580.5 125.62 L581 124.77 L581.5 124.85 L582 125.17 L582.5 124.97 L583 124.79 L583.5 125 L584 124.55 L584.5 125.11 L585 124.47 L585.5 125.13 L586 125.22 L586.5 124.63 L587 125.75 L587.5 124.86 L588 125.59 L588.5 125.16 L589 125.47 L589.5 125.23 L590 126.25 L590.5 125.86 L591 126.15 L591.5 125.89 L592 125.92 L592.52 125.82 L593.03 125.77 L593.55 126.1 L594.06 126.03 L594.58 126 L595.09 125.7 L595.61 126.1 L596.12 126.45 L596.64 126.18 L597.15 126.51 L597.67 126.42 L598.18 126.22 L598.7 126.33 L599.22 126.45 L599.73 126.66 L600.25 126.73 L600.76 127.23 L601.28 126.62 L601.79 126.39 L602.31 127.3 L602.82 127.02 L603.34 127.19 L603.85 128.08 L604.37 127.82 L604.88 127.62 L605.4 127.8 L605.9 127.57 L606.4 127.85 L606.9 127.39 L607.4 127.38 L607.9 127.48 L608.4 128.13 L608.9 128.15 L609.4 127.51 L609.9 128.08 L610.4 127.69 L610.9 128.1 L611.4 127.69 L611.9 128.11 L612.4 127.8 L612.9 127.77 L613.4 127.88 L613.9 127.95 L614.4 127.75 L614.9 127.53 L615.4 128.5 L615.9 127.88 L616.4 127.46 L616.9 127.35 L617.4 127.21 L617.9 127.9 L618.4 128.54 L618.9 127.64 L619.4 128.06 L619.9 127.62 L620.4 128.55 L620.9 128.36 L621.4 128.38 L621.9 128.74 L622.4 128.87 L622.9 128.71 L623.4 128.25 L623.9 128.06 L624.4 128.18 L624.9 128 L625.4 129.14 L625.9 128.56 L626.4 128.69 L626.9 128.75 L627.4 129.35 L627.9 128.59 L628.4 129.16 L628.9 128.93 L629.4 128.83 L629.9 128.32 L630.4 129.23 L630.9 128.75 L631.4 128.88 L631.9 129.13 L632.4 129.12 L632.9 129.48 L633.4 128.96 L633.9 129.25 L634.4 129.33 L634.9 129.28 L635.4 129.52 L635.91 129.21 L636.43 129.64 L636.94 129.03 L637.46 128.79 L637.97 129.2 L638.48 129.55 L639 129.01 L639.51 128.95 L640.02 129.02 L640.54 129.16 L641.05 129.03 L641.57 129.16 L642.08 128.51 L642.59 129.49 L643.11 129.18 L643.62 128.72 L644.13 129.38 L644.65 129.08 L645.16 129.37 L645.68 128.54 L646.19 129.39 L646.7 128.87 L647.22 128.2 L647.73 129.05 L648.24 128.7 L648.76 128.46 L649.27 128.69 L649.79 128.13 L650.3 128.89 L650.83 128.76 L651.36 128.86 L651.89 129.49 L652.41 129.18 L652.94 129.08 L653.47 129.1 L654 129.49 L654.54 130.15 L655.08 129.96 L655.61 130.13 L656.15 131.05 L656.69 131.09 L657.22 131.38 L657.76 132.34 L658.3 131.64" fill="none" stroke="#ea1c20" stroke-width="1.7" stroke-linejoin="round"/><path d="M382 225.5 v-4 M382 2.2 v4 M405.04 225.5 v-2.2 M405.04 2.2 v2.2 M428.08 225.5 v-4 M428.08 2.2 v4 M451.12 225.5 v-2.2 M451.12 2.2 v2.2 M474.17 225.5 v-4 M474.17 2.2 v4 M497.21 225.5 v-2.2 M497.21 2.2 v2.2 M520.25 225.5 v-4 M520.25 2.2 v4 M543.29 225.5 v-2.2 M543.29 2.2 v2.2 M566.33 225.5 v-4 M566.33 2.2 v4 M589.38 225.5 v-2.2 M589.38 2.2 v2.2 M612.42 225.5 v-4 M612.42 2.2 v4 M635.46 225.5 v-2.2 M635.46 2.2 v2.2 M658.5 225.5 v-4 M658.5 2.2 v4 M382 10.2 h4 M658.6 10.2 h-4 M382 29.72 h2.2 M658.6 29.72 h-2.2 M382 49.24 h4 M658.6 49.24 h-4 M382 68.76 h2.2 M658.6 68.76 h-2.2 M382 88.28 h4 M658.6 88.28 h-4 M382 107.8 h2.2 M658.6 107.8 h-2.2 M382 127.32 h4 M658.6 127.32 h-4 M382 146.84 h2.2 M658.6 146.84 h-2.2 M382 166.36 h4 M658.6 166.36 h-4 M382 185.88 h2.2 M658.6 185.88 h-2.2 M382 205.4 h4 M658.6 205.4 h-4 M382 224.92 h2.2 M658.6 224.92 h-2.2" stroke="#4e4e4e" stroke-width="1" fill="none"/><g font-size="9.8" fill="#222"><text x="376.8" y="12.7" text-anchor="end">-0.1</text><text x="376.8" y="51.74" text-anchor="end">-0.2</text><text x="376.8" y="90.78" text-anchor="end">-0.3</text><text x="376.8" y="129.82" text-anchor="end">-0.4</text><text x="376.8" y="168.86" text-anchor="end">-0.5</text><text x="376.8" y="207.9" text-anchor="end">-0.6</text><text x="382" y="237.0" text-anchor="middle">0</text><text x="428.08" y="237.0" text-anchor="middle">20</text><text x="474.17" y="237.0" text-anchor="middle">40</text><text x="520.25" y="237.0" text-anchor="middle">60</text><text x="566.33" y="237.0" text-anchor="middle">80</text><text x="612.42" y="237.0" text-anchor="middle">100</text><text x="658.5" y="237.0" text-anchor="middle">120</text></g><g font-size="11.4" fill="#111"><line x1="570.3" y1="20.9" x2="596.5" y2="20.9" stroke="#06067f" stroke-width="1.8" stroke-opacity="0.78"/><text x="600.4" y="25">TFSAA</text><line x1="570.3" y1="35.0" x2="596.5" y2="35.0" stroke="#fdc00e" stroke-width="1.8" stroke-opacity="0.78"/><text x="600.4" y="39.1">PEO-300</text><line x1="570.3" y1="49.3" x2="596.5" y2="49.3" stroke="#0a950a" stroke-width="1.8" stroke-opacity="0.78"/><text x="600.4" y="53.4">PEO-500</text><line x1="570.3" y1="63.8" x2="596.5" y2="63.8" stroke="#18c2c8" stroke-width="1.8" stroke-opacity="0.78"/><text x="600.4" y="67.9">PEO-600</text><line x1="570.3" y1="77.9" x2="596.5" y2="77.9" stroke="#ea1c20" stroke-width="1.8" stroke-opacity="0.78"/><text x="600.4" y="82">PEO-700</text></g><text x="520.75" y="249.9" text-anchor="middle" font-size="11.8" fill="#111">Time (min)</text><text transform="translate(357.2 103.9) rotate(-90)" text-anchor="middle" font-size="11.75" fill="#111">Potential (V)</text><text x="337.2" y="21.0" font-family="Liberation Serif" font-size="19.3" fill="#111">(b)</text></svg></body></html>
